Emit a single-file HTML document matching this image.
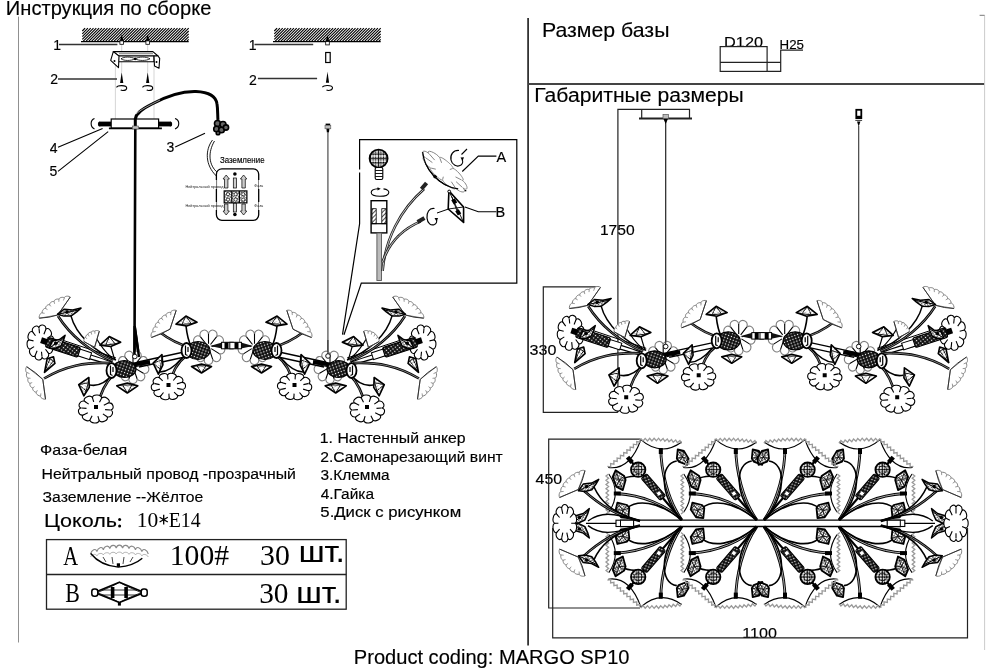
<!DOCTYPE html>
<html><head><meta charset="utf-8"><style>
html,body{margin:0;padding:0;background:#fff;}
svg{display:block;filter:grayscale(1);}
</style></head><body>
<svg width="992" height="672" viewBox="0 0 992 672">
<defs>
<pattern id="xh" width="2.4" height="2.4" patternUnits="userSpaceOnUse" patternTransform="rotate(30)"><rect width="2.4" height="2.4" fill="#fff"/><path d="M0,0H2.4M0,0V2.4" stroke="#000" stroke-width="0.7"/></pattern>
<pattern id="xl" width="2.6" height="2.6" patternUnits="userSpaceOnUse" patternTransform="rotate(30)"><rect width="2.6" height="2.6" fill="#fff"/><path d="M0,0H2.6" stroke="#000" stroke-width="0.5"/></pattern>
<pattern id="dots" width="2.6" height="2.6" patternUnits="userSpaceOnUse"><rect width="2.6" height="2.6" fill="#fff"/><circle cx="1.3" cy="1.3" r="0.85" fill="#000"/></pattern>
<pattern id="dk" width="3" height="3" patternUnits="userSpaceOnUse" patternTransform="rotate(20)"><rect width="3" height="3" fill="#111"/><circle cx="1.5" cy="1.5" r="0.7" fill="#fff"/></pattern>
<pattern id="hatch" width="3" height="3" patternUnits="userSpaceOnUse" patternTransform="rotate(45)"><rect width="3" height="3" fill="#fff"/><path d="M0,0V3" stroke="#000" stroke-width="1.4"/></pattern>
</defs>
<rect width="992" height="672" fill="#fff"/>
<text x="5.85" y="14.7" font-family="Liberation Sans" font-size="20" font-weight="normal" fill="#000" stroke="#000" stroke-width="0.15" textLength="205.54" lengthAdjust="spacingAndGlyphs" >Инструкция по сборке</text>
<text x="541.98" y="36.9" font-family="Liberation Sans" font-size="20.8" font-weight="normal" fill="#000" stroke="#000" stroke-width="0.15" textLength="127.48" lengthAdjust="spacingAndGlyphs" >Размер базы</text>
<text x="534.28" y="102" font-family="Liberation Sans" font-size="20" font-weight="normal" fill="#000" stroke="#000" stroke-width="0.15" textLength="209.37" lengthAdjust="spacingAndGlyphs" >Габаритные размеры</text>
<text x="724.06" y="46.6" font-family="Liberation Sans" font-size="15" font-weight="normal" fill="#000" stroke="#000" stroke-width="0.15" textLength="38.97" lengthAdjust="spacingAndGlyphs" >D120</text>
<text x="779.61" y="49.3" font-family="Liberation Sans" font-size="12" font-weight="normal" fill="#000" stroke="#000" stroke-width="0.15" textLength="24.35" lengthAdjust="spacingAndGlyphs" >H25</text>
<text x="599.91" y="235.1" font-family="Liberation Sans" font-size="14.8" font-weight="normal" fill="#000" stroke="#000" stroke-width="0.15" textLength="34.80" lengthAdjust="spacingAndGlyphs" >1750</text>
<text x="529.59" y="355" font-family="Liberation Sans" font-size="14.5" font-weight="normal" fill="#000" stroke="#000" stroke-width="0.15" textLength="26.84" lengthAdjust="spacingAndGlyphs" >330</text>
<text x="535.63" y="484.3" font-family="Liberation Sans" font-size="14.5" font-weight="normal" fill="#000" stroke="#000" stroke-width="0.15" textLength="26.59" lengthAdjust="spacingAndGlyphs" >450</text>
<text x="742.31" y="637.7" font-family="Liberation Sans" font-size="15" font-weight="normal" fill="#000" stroke="#000" stroke-width="0.15" textLength="34.70" lengthAdjust="spacingAndGlyphs" >1100</text>
<text x="40.08" y="455.3" font-family="Liberation Sans" font-size="14.5" font-weight="normal" fill="#000" stroke="#000" stroke-width="0.15" textLength="87.02" lengthAdjust="spacingAndGlyphs" >Фаза-белая</text>
<text x="41.51" y="478.8" font-family="Liberation Sans" font-size="15.4" font-weight="normal" fill="#000" stroke="#000" stroke-width="0.15" textLength="254.39" lengthAdjust="spacingAndGlyphs" >Нейтральный провод -прозрачный</text>
<text x="42.59" y="502.4" font-family="Liberation Sans" font-size="15.4" font-weight="normal" fill="#000" stroke="#000" stroke-width="0.15" textLength="160.81" lengthAdjust="spacingAndGlyphs" >Заземление --Жёлтое</text>
<text x="44.04" y="526.7" font-family="Liberation Sans" font-size="18.7" font-weight="normal" fill="#000" stroke="#000" stroke-width="0.15" textLength="72.94" lengthAdjust="spacingAndGlyphs" >Цоколь</text>
<circle cx="119.6" cy="519.4" r="1.5" fill="#000"/><circle cx="119.6" cy="525.9" r="1.5" fill="#000"/>
<text x="136.71" y="527" font-family="Liberation Serif" font-size="21.3" font-weight="normal" fill="#000" textLength="21.51" lengthAdjust="spacingAndGlyphs" >10</text>
<path d="M163.7,514.8 V524.4 M159.6,517.2 L167.8,522 M159.6,522 L167.8,517.2" stroke="#000" stroke-width="1.3"/>
<text x="168.73" y="527" font-family="Liberation Serif" font-size="21.3" font-weight="normal" fill="#000" textLength="31.88" lengthAdjust="spacingAndGlyphs" >E14</text>
<text x="319.80" y="443.1" font-family="Liberation Sans" font-size="14" font-weight="normal" fill="#000" stroke="#000" stroke-width="0.15" textLength="145.87" lengthAdjust="spacingAndGlyphs" >1. Настенный анкер</text>
<text x="320.21" y="461.7" font-family="Liberation Sans" font-size="14" font-weight="normal" fill="#000" stroke="#000" stroke-width="0.15" textLength="182.56" lengthAdjust="spacingAndGlyphs" >2.Самонарезающий винт</text>
<text x="320.41" y="479.8" font-family="Liberation Sans" font-size="14" font-weight="normal" fill="#000" stroke="#000" stroke-width="0.15" textLength="69.19" lengthAdjust="spacingAndGlyphs" >3.Клемма</text>
<text x="320.65" y="499.2" font-family="Liberation Sans" font-size="14" font-weight="normal" fill="#000" stroke="#000" stroke-width="0.15" textLength="53.35" lengthAdjust="spacingAndGlyphs" >4.Гайка</text>
<text x="320.33" y="516.7" font-family="Liberation Sans" font-size="14" font-weight="normal" fill="#000" stroke="#000" stroke-width="0.15" textLength="140.82" lengthAdjust="spacingAndGlyphs" >5.Диск с рисунком</text>
<text x="353.85" y="663.9" font-family="Liberation Sans" font-size="19.5" font-weight="normal" fill="#000" stroke="#000" stroke-width="0.15" textLength="275.63" lengthAdjust="spacingAndGlyphs" >Product coding: MARGO SP10</text>
<text x="63.30" y="564.8" font-family="Liberation Serif" font-size="27" font-weight="normal" fill="#000" textLength="14.85" lengthAdjust="spacingAndGlyphs" >A</text>
<text x="65.17" y="601.6" font-family="Liberation Serif" font-size="27" font-weight="normal" fill="#000" textLength="14.60" lengthAdjust="spacingAndGlyphs" >B</text>
<text x="169.79" y="564.8" font-family="Liberation Serif" font-size="29.7" font-weight="normal" fill="#000" textLength="59.34" lengthAdjust="spacingAndGlyphs" >100#</text>
<text x="260.08" y="564.8" font-family="Liberation Serif" font-size="29.7" font-weight="normal" fill="#000" textLength="29.76" lengthAdjust="spacingAndGlyphs" >30</text>
<text x="259.20" y="603" font-family="Liberation Serif" font-size="29.7" font-weight="normal" fill="#000" textLength="29.32" lengthAdjust="spacingAndGlyphs" >30</text>
<text x="298.73" y="561.9" font-family="Liberation Sans" font-size="29" font-weight="normal" fill="#000" stroke="#000" stroke-width="0.15" textLength="46.00" lengthAdjust="spacingAndGlyphs" >шт.</text>
<text x="296.15" y="603" font-family="Liberation Sans" font-size="29" font-weight="normal" fill="#000" stroke="#000" stroke-width="0.15" textLength="45.45" lengthAdjust="spacingAndGlyphs" >шт.</text>
<text x="53.13" y="50.3" font-family="Liberation Sans" font-size="14" font-weight="normal" fill="#000" stroke="#000" stroke-width="0.15" >1</text>
<text x="50.30" y="84.2" font-family="Liberation Sans" font-size="14" font-weight="normal" fill="#000" stroke="#000" stroke-width="0.15" >2</text>
<text x="248.73" y="50.4" font-family="Liberation Sans" font-size="14" font-weight="normal" fill="#000" stroke="#000" stroke-width="0.15" >1</text>
<text x="249.10" y="84.6" font-family="Liberation Sans" font-size="14" font-weight="normal" fill="#000" stroke="#000" stroke-width="0.15" >2</text>
<text x="49.68" y="152.7" font-family="Liberation Sans" font-size="14" font-weight="normal" fill="#000" stroke="#000" stroke-width="0.15" >4</text>
<text x="49.44" y="176.2" font-family="Liberation Sans" font-size="14" font-weight="normal" fill="#000" stroke="#000" stroke-width="0.15" >5</text>
<text x="166.47" y="151.8" font-family="Liberation Sans" font-size="14" font-weight="normal" fill="#000" stroke="#000" stroke-width="0.15" >3</text>
<text x="496.57" y="161.8" font-family="Liberation Sans" font-size="14.5" font-weight="normal" fill="#000" stroke="#000" stroke-width="0.15" >A</text>
<text x="495.41" y="216.8" font-family="Liberation Sans" font-size="14.5" font-weight="normal" fill="#000" stroke="#000" stroke-width="0.15" >B</text>
<text x="219.94" y="163.4" font-family="Liberation Sans" font-size="8.5" font-weight="normal" fill="#000" stroke="#000" stroke-width="0.15" textLength="44.61" lengthAdjust="spacingAndGlyphs" >Заземление</text>
<line x1="18.5" y1="16.6" x2="18.5" y2="642.5" stroke="#909090" stroke-width="1" />
<line x1="528.1" y1="18" x2="528.1" y2="645.5" stroke="#333" stroke-width="1.8" />
<line x1="528.2" y1="84" x2="984.6" y2="84" stroke="#444" stroke-width="1.8" />
<line x1="984.6" y1="15.3" x2="984.6" y2="650" stroke="#ccc" stroke-width="1" />
<line x1="979.6" y1="15.3" x2="984.6" y2="15.3" stroke="#777" stroke-width="1" />
<g stroke="#222" stroke-width="1.2" fill="none">
<rect x="720.2" y="46.6" width="46.9" height="24.8"/>
<line x1="720.2" y1="62.3" x2="780.7" y2="62.3"/>
<polyline points="767.1,71.4 780.7,71.4 780.7,50.2 803,50.2"/>
</g>
<g stroke="#222" stroke-width="1.2" fill="none">
<polyline points="617.9,412.3 617.9,109.3 689.5,109.3 689.5,118.5"/>
<line x1="641.7" y1="109.3" x2="641.7" y2="118.5"/>
<line x1="639" y1="118.5" x2="692" y2="118.5" stroke-width="1.8"/>
<polyline points="599,286.9 543.3,286.9 543.3,412.3 617.9,412.3"/>
<polyline points="640.5,439.1 548.7,439.1 548.7,608 640,608"/>
<polyline points="552.7,528 552.7,637.8 967.5,637.8 967.5,528"/>
</g>
<line x1="665.7" y1="118.5" x2="665.7" y2="344.5" stroke="#222" stroke-width="1.2" />
<g stroke="#222" stroke-width="1.3" fill="none">
<rect x="46.5" y="539.6" width="299.7" height="69.6"/>
<line x1="46.5" y1="574.5" x2="346.2" y2="574.5"/>
</g>
<g transform="translate(681.8,520)"><path d="M-73.6,-52.6 Q-51.9,-49.5 -41,-80.3" fill="none" stroke="#000" stroke-width="1.1"/>
<polyline points="-74.4,-53.6 -71.1,-53.0 -71.2,-56.4 -67.9,-55.8 -67.9,-59.1 -64.6,-58.5 -64.7,-61.9 -61.3,-61.3 -61.4,-64.7 -58.1,-64.1 -58.1,-67.4 -54.8,-66.8 -54.9,-70.2 -51.6,-69.6 -51.6,-73.0 -48.3,-72.4 -48.4,-75.8 -45.0,-75.2 -45.1,-78.5 -41.8,-77.9 -41.8,-81.3" fill="none" stroke="#999" stroke-width="1.3"/>
<path d="M-41,-80.3 Q-21,-63 0,-78" fill="none" stroke="#000" stroke-width="1.1"/>
<polyline points="-41.0,-81.6 -38.8,-79.0 -36.6,-81.6 -34.3,-79.1 -32.1,-81.7 -29.9,-79.1 -27.7,-81.7 -25.4,-79.2 -23.2,-81.8 -21.2,-79.2 -18.7,-81.5 -17.0,-78.7 -14.5,-81.0 -12.8,-78.2 -10.3,-80.5 -8.6,-77.7 -6.1,-80.0 -4.4,-77.2 -1.9,-79.5 -0.2,-76.7" fill="none" stroke="#999" stroke-width="1.3"/>
<path d="M-73,-46 Q-60,-27.2 -73,-8" fill="none" stroke="#000" stroke-width="1.1"/>
<polyline points="-73.2,-46.0 -75.8,-43.9 -73.2,-41.8 -75.8,-39.7 -73.2,-37.6 -75.8,-35.5 -73.2,-33.4 -75.8,-31.3 -73.2,-29.2 -75.8,-27.1 -73.2,-24.9 -75.8,-22.8 -73.2,-20.7 -75.8,-18.6 -73.2,-16.5 -75.8,-14.4 -73.2,-12.3 -75.8,-10.2 -73.2,-8.1 -75.8,-6.0" fill="none" stroke="#999" stroke-width="1.3"/>
<path d="M-65,-26.5 C-40,-25 -15,-15 0,0" fill="none" stroke="#000" stroke-width="2.8"/>
<path d="M-65,-26.5 C-40,-25 -15,-15 0,0" fill="none" stroke="#aaa" stroke-width="1.0"/>
<path d="M-21,-72 C-21,-50 -14,-20 0,0" fill="none" stroke="#000" stroke-width="2.8"/>
<path d="M-21,-72 C-21,-50 -14,-20 0,0" fill="none" stroke="#aaa" stroke-width="1.0"/>
<rect x="-68" y="-28.5" width="7" height="4" fill="#000"/>
<rect x="-23" y="-72" width="4" height="6" fill="#000"/>
<path d="M-55,-12 C-45,-20 -25,-20 0,0" fill="none" stroke="#000" stroke-width="1.6"/>
<path d="M-5,-59 C-22,-57 -23,-25 0,0" fill="none" stroke="#000" stroke-width="1.6"/>
<path d="M-57,-42 C-52,-44 -48,-44 -42,-44" fill="none" stroke="#000" stroke-width="1.6"/>
<g transform="rotate(-130.8)"><path d="M1,0 H82" stroke="#000" stroke-width="2.2"/><rect x="29" y="-3.6" width="29" height="7.2" rx="1.5" fill="url(#dk)" stroke="#000" stroke-width="1.1"/><rect x="33" y="-2" width="4" height="4" fill="#fff" stroke="#000" stroke-width="0.6"/><rect x="76" y="-2.2" width="7" height="4.4" fill="#000"/></g>
<circle cx="-43.6" cy="-50.3" r="7.2" fill="url(#dots)" stroke="#000" stroke-width="1.8"/><path d="M-50.800000000000004,-50.3 h14.4 M-43.6,-57.5 v14.4" stroke="#000" stroke-width="0.8"/><circle cx="-43.6" cy="-50.3" r="3.9600000000000004" fill="none" stroke="#000" stroke-width="0.8"/>
<polygon points="-59.0,-29.9 -65.5,-33.2 -69.1,-43.1 -66.2,-49.7 -57.6,-43.9 -56.2,-39.9" fill="url(#xh)" stroke="#000" stroke-width="1.8" stroke-linejoin="round"/><path d="M-65.5,-33.2 L-62.6,-39.8 L-69.1,-43.1M-59.0,-29.9L-66.2,-49.7M-62.6,-39.8L-56.2,-39.9M-62.6,-39.8L-57.6,-43.9M-65.5,-33.2L-60.5,-33.9M-69.1,-43.1L-64.8,-45.7" stroke="#000" stroke-width="0.8" fill="none"/>
<polygon points="-53.5,-1.9 -60.7,-2.7 -66.1,-10.4 -64.4,-17.4 -54.7,-15.0 -52.5,-11.9" fill="url(#xh)" stroke="#000" stroke-width="1.8" stroke-linejoin="round"/><path d="M-60.7,-2.7 L-59.0,-9.7 L-66.1,-10.4M-53.5,-1.9L-64.4,-17.4M-59.0,-9.7L-52.5,-11.9M-59.0,-9.7L-54.7,-15.0M-60.7,-2.7L-55.7,-5.0M-66.1,-10.4L-62.3,-14.3" stroke="#000" stroke-width="0.8" fill="none"/>
<polygon points="-4.1,-70.5 2.1,-69.1 6.8,-61.4 5.4,-55.2 -3.1,-58.4 -5.0,-61.5" fill="url(#xh)" stroke="#000" stroke-width="1.8" stroke-linejoin="round"/><path d="M2.1,-69.1 L0.6,-62.9 L6.8,-61.4M-4.1,-70.5L5.4,-55.2M0.6,-62.9L-5.0,-61.5M0.6,-62.9L-3.1,-58.4M2.1,-69.1L-2.2,-67.4M6.8,-61.4L3.5,-58.3" stroke="#000" stroke-width="0.8" fill="none"/></g><g transform="translate(756.8,520)"><path d="M-73.6,-52.6 Q-51.9,-49.5 -41,-80.3" fill="none" stroke="#000" stroke-width="1.1"/>
<polyline points="-74.4,-53.6 -71.1,-53.0 -71.2,-56.4 -67.9,-55.8 -67.9,-59.1 -64.6,-58.5 -64.7,-61.9 -61.3,-61.3 -61.4,-64.7 -58.1,-64.1 -58.1,-67.4 -54.8,-66.8 -54.9,-70.2 -51.6,-69.6 -51.6,-73.0 -48.3,-72.4 -48.4,-75.8 -45.0,-75.2 -45.1,-78.5 -41.8,-77.9 -41.8,-81.3" fill="none" stroke="#999" stroke-width="1.3"/>
<path d="M-41,-80.3 Q-21,-63 0,-78" fill="none" stroke="#000" stroke-width="1.1"/>
<polyline points="-41.0,-81.6 -38.8,-79.0 -36.6,-81.6 -34.3,-79.1 -32.1,-81.7 -29.9,-79.1 -27.7,-81.7 -25.4,-79.2 -23.2,-81.8 -21.2,-79.2 -18.7,-81.5 -17.0,-78.7 -14.5,-81.0 -12.8,-78.2 -10.3,-80.5 -8.6,-77.7 -6.1,-80.0 -4.4,-77.2 -1.9,-79.5 -0.2,-76.7" fill="none" stroke="#999" stroke-width="1.3"/>
<path d="M-73,-46 Q-60,-27.2 -73,-8" fill="none" stroke="#000" stroke-width="1.1"/>
<polyline points="-73.2,-46.0 -75.8,-43.9 -73.2,-41.8 -75.8,-39.7 -73.2,-37.6 -75.8,-35.5 -73.2,-33.4 -75.8,-31.3 -73.2,-29.2 -75.8,-27.1 -73.2,-24.9 -75.8,-22.8 -73.2,-20.7 -75.8,-18.6 -73.2,-16.5 -75.8,-14.4 -73.2,-12.3 -75.8,-10.2 -73.2,-8.1 -75.8,-6.0" fill="none" stroke="#999" stroke-width="1.3"/>
<path d="M-65,-26.5 C-40,-25 -15,-15 0,0" fill="none" stroke="#000" stroke-width="2.8"/>
<path d="M-65,-26.5 C-40,-25 -15,-15 0,0" fill="none" stroke="#aaa" stroke-width="1.0"/>
<path d="M-21,-72 C-21,-50 -14,-20 0,0" fill="none" stroke="#000" stroke-width="2.8"/>
<path d="M-21,-72 C-21,-50 -14,-20 0,0" fill="none" stroke="#aaa" stroke-width="1.0"/>
<rect x="-68" y="-28.5" width="7" height="4" fill="#000"/>
<rect x="-23" y="-72" width="4" height="6" fill="#000"/>
<path d="M-55,-12 C-45,-20 -25,-20 0,0" fill="none" stroke="#000" stroke-width="1.6"/>
<path d="M-5,-59 C-22,-57 -23,-25 0,0" fill="none" stroke="#000" stroke-width="1.6"/>
<path d="M-57,-42 C-52,-44 -48,-44 -42,-44" fill="none" stroke="#000" stroke-width="1.6"/>
<g transform="rotate(-130.8)"><path d="M1,0 H82" stroke="#000" stroke-width="2.2"/><rect x="29" y="-3.6" width="29" height="7.2" rx="1.5" fill="url(#dk)" stroke="#000" stroke-width="1.1"/><rect x="33" y="-2" width="4" height="4" fill="#fff" stroke="#000" stroke-width="0.6"/><rect x="76" y="-2.2" width="7" height="4.4" fill="#000"/></g>
<circle cx="-43.6" cy="-50.3" r="7.2" fill="url(#dots)" stroke="#000" stroke-width="1.8"/><path d="M-50.800000000000004,-50.3 h14.4 M-43.6,-57.5 v14.4" stroke="#000" stroke-width="0.8"/><circle cx="-43.6" cy="-50.3" r="3.9600000000000004" fill="none" stroke="#000" stroke-width="0.8"/>
<polygon points="-59.0,-29.9 -65.5,-33.2 -69.1,-43.1 -66.2,-49.7 -57.6,-43.9 -56.2,-39.9" fill="url(#xh)" stroke="#000" stroke-width="1.8" stroke-linejoin="round"/><path d="M-65.5,-33.2 L-62.6,-39.8 L-69.1,-43.1M-59.0,-29.9L-66.2,-49.7M-62.6,-39.8L-56.2,-39.9M-62.6,-39.8L-57.6,-43.9M-65.5,-33.2L-60.5,-33.9M-69.1,-43.1L-64.8,-45.7" stroke="#000" stroke-width="0.8" fill="none"/>
<polygon points="-53.5,-1.9 -60.7,-2.7 -66.1,-10.4 -64.4,-17.4 -54.7,-15.0 -52.5,-11.9" fill="url(#xh)" stroke="#000" stroke-width="1.8" stroke-linejoin="round"/><path d="M-60.7,-2.7 L-59.0,-9.7 L-66.1,-10.4M-53.5,-1.9L-64.4,-17.4M-59.0,-9.7L-52.5,-11.9M-59.0,-9.7L-54.7,-15.0M-60.7,-2.7L-55.7,-5.0M-66.1,-10.4L-62.3,-14.3" stroke="#000" stroke-width="0.8" fill="none"/>
<polygon points="-4.1,-70.5 2.1,-69.1 6.8,-61.4 5.4,-55.2 -3.1,-58.4 -5.0,-61.5" fill="url(#xh)" stroke="#000" stroke-width="1.8" stroke-linejoin="round"/><path d="M2.1,-69.1 L0.6,-62.9 L6.8,-61.4M-4.1,-70.5L5.4,-55.2M0.6,-62.9L-5.0,-61.5M0.6,-62.9L-3.1,-58.4M2.1,-69.1L-2.2,-67.4M6.8,-61.4L3.5,-58.3" stroke="#000" stroke-width="0.8" fill="none"/></g><path d="M583,490 C600,505 615,515 640,521" fill="none" stroke="#000" stroke-width="2.6"/>
<path d="M583,490 C600,505 615,515 640,521" fill="none" stroke="#999" stroke-width="0.8"/>
<path d="M594,487 C600,500 610,512 640,521" fill="none" stroke="#000" stroke-width="1.6"/>
<path d="M588,521 C600,512 612,512 640,521" fill="none" stroke="#000" stroke-width="1.4"/>
<path d="M585.0,470.7 C583.1,469.6 578.5,471.1 579.3,472.5 C577.4,471.5 573.4,473.5 574.2,475.0 C572.4,474.1 569.0,476.6 569.9,478.2 C568.2,477.3 565.3,480.4 566.3,482.0 C564.6,481.2 562.3,484.8 563.4,486.5 C561.8,485.7 560.0,489.9 561.1,491.7 C559.6,491.0 558.4,495.6 559.6,497.5 L578.3,489.5 Z" fill="#fff" stroke="#808080" stroke-width="1.0"/><path d="M585.0,470.7 Q582.7,481.1 578.3,489.5 L559.6,497.5" fill="none" stroke="#333" stroke-width="1.0"/><path d="M579.3,472.5L579.1,475.1M574.2,475.0L574.9,477.2M569.9,478.2L571.2,479.9M566.3,482.0L568.1,483.2M563.4,486.5L565.6,487.0M561.1,491.7L563.7,491.4" stroke="#808080" stroke-width="0.8"/>
<polygon points="578.5,490.8 583.2,484.1 591.6,483.1 598.7,479.3 595.8,484.3 591.8,489.8 585.0,491.6" fill="url(#xh)" stroke="#000" stroke-width="1.5" stroke-linejoin="round"/><path d="M578.5,490.8L597.2,481.8" stroke="#000" stroke-width="1"/><circle cx="586.7" cy="486.5" r="1.8" fill="#000"/>
<polygon points="572.6,523.2 575.7,515.8 583.3,513.5 589.3,508.6 587.6,514.0 584.9,520.0 578.9,522.8" fill="url(#xh)" stroke="#000" stroke-width="1.5" stroke-linejoin="round"/><path d="M572.6,523.2L588.4,511.3" stroke="#000" stroke-width="1"/><circle cx="579.5" cy="517.6" r="1.8" fill="#000"/><g transform="translate(1520.8,0) scale(-1,1)"><g transform="translate(681.8,520)"><path d="M-73.6,-52.6 Q-51.9,-49.5 -41,-80.3" fill="none" stroke="#000" stroke-width="1.1"/>
<polyline points="-74.4,-53.6 -71.1,-53.0 -71.2,-56.4 -67.9,-55.8 -67.9,-59.1 -64.6,-58.5 -64.7,-61.9 -61.3,-61.3 -61.4,-64.7 -58.1,-64.1 -58.1,-67.4 -54.8,-66.8 -54.9,-70.2 -51.6,-69.6 -51.6,-73.0 -48.3,-72.4 -48.4,-75.8 -45.0,-75.2 -45.1,-78.5 -41.8,-77.9 -41.8,-81.3" fill="none" stroke="#999" stroke-width="1.3"/>
<path d="M-41,-80.3 Q-21,-63 0,-78" fill="none" stroke="#000" stroke-width="1.1"/>
<polyline points="-41.0,-81.6 -38.8,-79.0 -36.6,-81.6 -34.3,-79.1 -32.1,-81.7 -29.9,-79.1 -27.7,-81.7 -25.4,-79.2 -23.2,-81.8 -21.2,-79.2 -18.7,-81.5 -17.0,-78.7 -14.5,-81.0 -12.8,-78.2 -10.3,-80.5 -8.6,-77.7 -6.1,-80.0 -4.4,-77.2 -1.9,-79.5 -0.2,-76.7" fill="none" stroke="#999" stroke-width="1.3"/>
<path d="M-73,-46 Q-60,-27.2 -73,-8" fill="none" stroke="#000" stroke-width="1.1"/>
<polyline points="-73.2,-46.0 -75.8,-43.9 -73.2,-41.8 -75.8,-39.7 -73.2,-37.6 -75.8,-35.5 -73.2,-33.4 -75.8,-31.3 -73.2,-29.2 -75.8,-27.1 -73.2,-24.9 -75.8,-22.8 -73.2,-20.7 -75.8,-18.6 -73.2,-16.5 -75.8,-14.4 -73.2,-12.3 -75.8,-10.2 -73.2,-8.1 -75.8,-6.0" fill="none" stroke="#999" stroke-width="1.3"/>
<path d="M-65,-26.5 C-40,-25 -15,-15 0,0" fill="none" stroke="#000" stroke-width="2.8"/>
<path d="M-65,-26.5 C-40,-25 -15,-15 0,0" fill="none" stroke="#aaa" stroke-width="1.0"/>
<path d="M-21,-72 C-21,-50 -14,-20 0,0" fill="none" stroke="#000" stroke-width="2.8"/>
<path d="M-21,-72 C-21,-50 -14,-20 0,0" fill="none" stroke="#aaa" stroke-width="1.0"/>
<rect x="-68" y="-28.5" width="7" height="4" fill="#000"/>
<rect x="-23" y="-72" width="4" height="6" fill="#000"/>
<path d="M-55,-12 C-45,-20 -25,-20 0,0" fill="none" stroke="#000" stroke-width="1.6"/>
<path d="M-5,-59 C-22,-57 -23,-25 0,0" fill="none" stroke="#000" stroke-width="1.6"/>
<path d="M-57,-42 C-52,-44 -48,-44 -42,-44" fill="none" stroke="#000" stroke-width="1.6"/>
<g transform="rotate(-130.8)"><path d="M1,0 H82" stroke="#000" stroke-width="2.2"/><rect x="29" y="-3.6" width="29" height="7.2" rx="1.5" fill="url(#dk)" stroke="#000" stroke-width="1.1"/><rect x="33" y="-2" width="4" height="4" fill="#fff" stroke="#000" stroke-width="0.6"/><rect x="76" y="-2.2" width="7" height="4.4" fill="#000"/></g>
<circle cx="-43.6" cy="-50.3" r="7.2" fill="url(#dots)" stroke="#000" stroke-width="1.8"/><path d="M-50.800000000000004,-50.3 h14.4 M-43.6,-57.5 v14.4" stroke="#000" stroke-width="0.8"/><circle cx="-43.6" cy="-50.3" r="3.9600000000000004" fill="none" stroke="#000" stroke-width="0.8"/>
<polygon points="-59.0,-29.9 -65.5,-33.2 -69.1,-43.1 -66.2,-49.7 -57.6,-43.9 -56.2,-39.9" fill="url(#xh)" stroke="#000" stroke-width="1.8" stroke-linejoin="round"/><path d="M-65.5,-33.2 L-62.6,-39.8 L-69.1,-43.1M-59.0,-29.9L-66.2,-49.7M-62.6,-39.8L-56.2,-39.9M-62.6,-39.8L-57.6,-43.9M-65.5,-33.2L-60.5,-33.9M-69.1,-43.1L-64.8,-45.7" stroke="#000" stroke-width="0.8" fill="none"/>
<polygon points="-53.5,-1.9 -60.7,-2.7 -66.1,-10.4 -64.4,-17.4 -54.7,-15.0 -52.5,-11.9" fill="url(#xh)" stroke="#000" stroke-width="1.8" stroke-linejoin="round"/><path d="M-60.7,-2.7 L-59.0,-9.7 L-66.1,-10.4M-53.5,-1.9L-64.4,-17.4M-59.0,-9.7L-52.5,-11.9M-59.0,-9.7L-54.7,-15.0M-60.7,-2.7L-55.7,-5.0M-66.1,-10.4L-62.3,-14.3" stroke="#000" stroke-width="0.8" fill="none"/>
<polygon points="-4.1,-70.5 2.1,-69.1 6.8,-61.4 5.4,-55.2 -3.1,-58.4 -5.0,-61.5" fill="url(#xh)" stroke="#000" stroke-width="1.8" stroke-linejoin="round"/><path d="M2.1,-69.1 L0.6,-62.9 L6.8,-61.4M-4.1,-70.5L5.4,-55.2M0.6,-62.9L-5.0,-61.5M0.6,-62.9L-3.1,-58.4M2.1,-69.1L-2.2,-67.4M6.8,-61.4L3.5,-58.3" stroke="#000" stroke-width="0.8" fill="none"/></g><g transform="translate(756.8,520)"><path d="M-73.6,-52.6 Q-51.9,-49.5 -41,-80.3" fill="none" stroke="#000" stroke-width="1.1"/>
<polyline points="-74.4,-53.6 -71.1,-53.0 -71.2,-56.4 -67.9,-55.8 -67.9,-59.1 -64.6,-58.5 -64.7,-61.9 -61.3,-61.3 -61.4,-64.7 -58.1,-64.1 -58.1,-67.4 -54.8,-66.8 -54.9,-70.2 -51.6,-69.6 -51.6,-73.0 -48.3,-72.4 -48.4,-75.8 -45.0,-75.2 -45.1,-78.5 -41.8,-77.9 -41.8,-81.3" fill="none" stroke="#999" stroke-width="1.3"/>
<path d="M-41,-80.3 Q-21,-63 0,-78" fill="none" stroke="#000" stroke-width="1.1"/>
<polyline points="-41.0,-81.6 -38.8,-79.0 -36.6,-81.6 -34.3,-79.1 -32.1,-81.7 -29.9,-79.1 -27.7,-81.7 -25.4,-79.2 -23.2,-81.8 -21.2,-79.2 -18.7,-81.5 -17.0,-78.7 -14.5,-81.0 -12.8,-78.2 -10.3,-80.5 -8.6,-77.7 -6.1,-80.0 -4.4,-77.2 -1.9,-79.5 -0.2,-76.7" fill="none" stroke="#999" stroke-width="1.3"/>
<path d="M-73,-46 Q-60,-27.2 -73,-8" fill="none" stroke="#000" stroke-width="1.1"/>
<polyline points="-73.2,-46.0 -75.8,-43.9 -73.2,-41.8 -75.8,-39.7 -73.2,-37.6 -75.8,-35.5 -73.2,-33.4 -75.8,-31.3 -73.2,-29.2 -75.8,-27.1 -73.2,-24.9 -75.8,-22.8 -73.2,-20.7 -75.8,-18.6 -73.2,-16.5 -75.8,-14.4 -73.2,-12.3 -75.8,-10.2 -73.2,-8.1 -75.8,-6.0" fill="none" stroke="#999" stroke-width="1.3"/>
<path d="M-65,-26.5 C-40,-25 -15,-15 0,0" fill="none" stroke="#000" stroke-width="2.8"/>
<path d="M-65,-26.5 C-40,-25 -15,-15 0,0" fill="none" stroke="#aaa" stroke-width="1.0"/>
<path d="M-21,-72 C-21,-50 -14,-20 0,0" fill="none" stroke="#000" stroke-width="2.8"/>
<path d="M-21,-72 C-21,-50 -14,-20 0,0" fill="none" stroke="#aaa" stroke-width="1.0"/>
<rect x="-68" y="-28.5" width="7" height="4" fill="#000"/>
<rect x="-23" y="-72" width="4" height="6" fill="#000"/>
<path d="M-55,-12 C-45,-20 -25,-20 0,0" fill="none" stroke="#000" stroke-width="1.6"/>
<path d="M-5,-59 C-22,-57 -23,-25 0,0" fill="none" stroke="#000" stroke-width="1.6"/>
<path d="M-57,-42 C-52,-44 -48,-44 -42,-44" fill="none" stroke="#000" stroke-width="1.6"/>
<g transform="rotate(-130.8)"><path d="M1,0 H82" stroke="#000" stroke-width="2.2"/><rect x="29" y="-3.6" width="29" height="7.2" rx="1.5" fill="url(#dk)" stroke="#000" stroke-width="1.1"/><rect x="33" y="-2" width="4" height="4" fill="#fff" stroke="#000" stroke-width="0.6"/><rect x="76" y="-2.2" width="7" height="4.4" fill="#000"/></g>
<circle cx="-43.6" cy="-50.3" r="7.2" fill="url(#dots)" stroke="#000" stroke-width="1.8"/><path d="M-50.800000000000004,-50.3 h14.4 M-43.6,-57.5 v14.4" stroke="#000" stroke-width="0.8"/><circle cx="-43.6" cy="-50.3" r="3.9600000000000004" fill="none" stroke="#000" stroke-width="0.8"/>
<polygon points="-59.0,-29.9 -65.5,-33.2 -69.1,-43.1 -66.2,-49.7 -57.6,-43.9 -56.2,-39.9" fill="url(#xh)" stroke="#000" stroke-width="1.8" stroke-linejoin="round"/><path d="M-65.5,-33.2 L-62.6,-39.8 L-69.1,-43.1M-59.0,-29.9L-66.2,-49.7M-62.6,-39.8L-56.2,-39.9M-62.6,-39.8L-57.6,-43.9M-65.5,-33.2L-60.5,-33.9M-69.1,-43.1L-64.8,-45.7" stroke="#000" stroke-width="0.8" fill="none"/>
<polygon points="-53.5,-1.9 -60.7,-2.7 -66.1,-10.4 -64.4,-17.4 -54.7,-15.0 -52.5,-11.9" fill="url(#xh)" stroke="#000" stroke-width="1.8" stroke-linejoin="round"/><path d="M-60.7,-2.7 L-59.0,-9.7 L-66.1,-10.4M-53.5,-1.9L-64.4,-17.4M-59.0,-9.7L-52.5,-11.9M-59.0,-9.7L-54.7,-15.0M-60.7,-2.7L-55.7,-5.0M-66.1,-10.4L-62.3,-14.3" stroke="#000" stroke-width="0.8" fill="none"/>
<polygon points="-4.1,-70.5 2.1,-69.1 6.8,-61.4 5.4,-55.2 -3.1,-58.4 -5.0,-61.5" fill="url(#xh)" stroke="#000" stroke-width="1.8" stroke-linejoin="round"/><path d="M2.1,-69.1 L0.6,-62.9 L6.8,-61.4M-4.1,-70.5L5.4,-55.2M0.6,-62.9L-5.0,-61.5M0.6,-62.9L-3.1,-58.4M2.1,-69.1L-2.2,-67.4M6.8,-61.4L3.5,-58.3" stroke="#000" stroke-width="0.8" fill="none"/></g><path d="M583,490 C600,505 615,515 640,521" fill="none" stroke="#000" stroke-width="2.6"/>
<path d="M583,490 C600,505 615,515 640,521" fill="none" stroke="#999" stroke-width="0.8"/>
<path d="M594,487 C600,500 610,512 640,521" fill="none" stroke="#000" stroke-width="1.6"/>
<path d="M588,521 C600,512 612,512 640,521" fill="none" stroke="#000" stroke-width="1.4"/>
<path d="M585.0,470.7 C583.1,469.6 578.5,471.1 579.3,472.5 C577.4,471.5 573.4,473.5 574.2,475.0 C572.4,474.1 569.0,476.6 569.9,478.2 C568.2,477.3 565.3,480.4 566.3,482.0 C564.6,481.2 562.3,484.8 563.4,486.5 C561.8,485.7 560.0,489.9 561.1,491.7 C559.6,491.0 558.4,495.6 559.6,497.5 L578.3,489.5 Z" fill="#fff" stroke="#808080" stroke-width="1.0"/><path d="M585.0,470.7 Q582.7,481.1 578.3,489.5 L559.6,497.5" fill="none" stroke="#333" stroke-width="1.0"/><path d="M579.3,472.5L579.1,475.1M574.2,475.0L574.9,477.2M569.9,478.2L571.2,479.9M566.3,482.0L568.1,483.2M563.4,486.5L565.6,487.0M561.1,491.7L563.7,491.4" stroke="#808080" stroke-width="0.8"/>
<polygon points="578.5,490.8 583.2,484.1 591.6,483.1 598.7,479.3 595.8,484.3 591.8,489.8 585.0,491.6" fill="url(#xh)" stroke="#000" stroke-width="1.5" stroke-linejoin="round"/><path d="M578.5,490.8L597.2,481.8" stroke="#000" stroke-width="1"/><circle cx="586.7" cy="486.5" r="1.8" fill="#000"/>
<polygon points="572.6,523.2 575.7,515.8 583.3,513.5 589.3,508.6 587.6,514.0 584.9,520.0 578.9,522.8" fill="url(#xh)" stroke="#000" stroke-width="1.5" stroke-linejoin="round"/><path d="M572.6,523.2L588.4,511.3" stroke="#000" stroke-width="1"/><circle cx="579.5" cy="517.6" r="1.8" fill="#000"/></g><g transform="translate(0,1046.6) scale(1,-1)"><g transform="translate(681.8,520)"><path d="M-73.6,-52.6 Q-51.9,-49.5 -41,-80.3" fill="none" stroke="#000" stroke-width="1.1"/>
<polyline points="-74.4,-53.6 -71.1,-53.0 -71.2,-56.4 -67.9,-55.8 -67.9,-59.1 -64.6,-58.5 -64.7,-61.9 -61.3,-61.3 -61.4,-64.7 -58.1,-64.1 -58.1,-67.4 -54.8,-66.8 -54.9,-70.2 -51.6,-69.6 -51.6,-73.0 -48.3,-72.4 -48.4,-75.8 -45.0,-75.2 -45.1,-78.5 -41.8,-77.9 -41.8,-81.3" fill="none" stroke="#999" stroke-width="1.3"/>
<path d="M-41,-80.3 Q-21,-63 0,-78" fill="none" stroke="#000" stroke-width="1.1"/>
<polyline points="-41.0,-81.6 -38.8,-79.0 -36.6,-81.6 -34.3,-79.1 -32.1,-81.7 -29.9,-79.1 -27.7,-81.7 -25.4,-79.2 -23.2,-81.8 -21.2,-79.2 -18.7,-81.5 -17.0,-78.7 -14.5,-81.0 -12.8,-78.2 -10.3,-80.5 -8.6,-77.7 -6.1,-80.0 -4.4,-77.2 -1.9,-79.5 -0.2,-76.7" fill="none" stroke="#999" stroke-width="1.3"/>
<path d="M-73,-46 Q-60,-27.2 -73,-8" fill="none" stroke="#000" stroke-width="1.1"/>
<polyline points="-73.2,-46.0 -75.8,-43.9 -73.2,-41.8 -75.8,-39.7 -73.2,-37.6 -75.8,-35.5 -73.2,-33.4 -75.8,-31.3 -73.2,-29.2 -75.8,-27.1 -73.2,-24.9 -75.8,-22.8 -73.2,-20.7 -75.8,-18.6 -73.2,-16.5 -75.8,-14.4 -73.2,-12.3 -75.8,-10.2 -73.2,-8.1 -75.8,-6.0" fill="none" stroke="#999" stroke-width="1.3"/>
<path d="M-65,-26.5 C-40,-25 -15,-15 0,0" fill="none" stroke="#000" stroke-width="2.8"/>
<path d="M-65,-26.5 C-40,-25 -15,-15 0,0" fill="none" stroke="#aaa" stroke-width="1.0"/>
<path d="M-21,-72 C-21,-50 -14,-20 0,0" fill="none" stroke="#000" stroke-width="2.8"/>
<path d="M-21,-72 C-21,-50 -14,-20 0,0" fill="none" stroke="#aaa" stroke-width="1.0"/>
<rect x="-68" y="-28.5" width="7" height="4" fill="#000"/>
<rect x="-23" y="-72" width="4" height="6" fill="#000"/>
<path d="M-55,-12 C-45,-20 -25,-20 0,0" fill="none" stroke="#000" stroke-width="1.6"/>
<path d="M-5,-59 C-22,-57 -23,-25 0,0" fill="none" stroke="#000" stroke-width="1.6"/>
<path d="M-57,-42 C-52,-44 -48,-44 -42,-44" fill="none" stroke="#000" stroke-width="1.6"/>
<g transform="rotate(-130.8)"><path d="M1,0 H82" stroke="#000" stroke-width="2.2"/><rect x="29" y="-3.6" width="29" height="7.2" rx="1.5" fill="url(#dk)" stroke="#000" stroke-width="1.1"/><rect x="33" y="-2" width="4" height="4" fill="#fff" stroke="#000" stroke-width="0.6"/><rect x="76" y="-2.2" width="7" height="4.4" fill="#000"/></g>
<circle cx="-43.6" cy="-50.3" r="7.2" fill="url(#dots)" stroke="#000" stroke-width="1.8"/><path d="M-50.800000000000004,-50.3 h14.4 M-43.6,-57.5 v14.4" stroke="#000" stroke-width="0.8"/><circle cx="-43.6" cy="-50.3" r="3.9600000000000004" fill="none" stroke="#000" stroke-width="0.8"/>
<polygon points="-59.0,-29.9 -65.5,-33.2 -69.1,-43.1 -66.2,-49.7 -57.6,-43.9 -56.2,-39.9" fill="url(#xh)" stroke="#000" stroke-width="1.8" stroke-linejoin="round"/><path d="M-65.5,-33.2 L-62.6,-39.8 L-69.1,-43.1M-59.0,-29.9L-66.2,-49.7M-62.6,-39.8L-56.2,-39.9M-62.6,-39.8L-57.6,-43.9M-65.5,-33.2L-60.5,-33.9M-69.1,-43.1L-64.8,-45.7" stroke="#000" stroke-width="0.8" fill="none"/>
<polygon points="-53.5,-1.9 -60.7,-2.7 -66.1,-10.4 -64.4,-17.4 -54.7,-15.0 -52.5,-11.9" fill="url(#xh)" stroke="#000" stroke-width="1.8" stroke-linejoin="round"/><path d="M-60.7,-2.7 L-59.0,-9.7 L-66.1,-10.4M-53.5,-1.9L-64.4,-17.4M-59.0,-9.7L-52.5,-11.9M-59.0,-9.7L-54.7,-15.0M-60.7,-2.7L-55.7,-5.0M-66.1,-10.4L-62.3,-14.3" stroke="#000" stroke-width="0.8" fill="none"/>
<polygon points="-4.1,-70.5 2.1,-69.1 6.8,-61.4 5.4,-55.2 -3.1,-58.4 -5.0,-61.5" fill="url(#xh)" stroke="#000" stroke-width="1.8" stroke-linejoin="round"/><path d="M2.1,-69.1 L0.6,-62.9 L6.8,-61.4M-4.1,-70.5L5.4,-55.2M0.6,-62.9L-5.0,-61.5M0.6,-62.9L-3.1,-58.4M2.1,-69.1L-2.2,-67.4M6.8,-61.4L3.5,-58.3" stroke="#000" stroke-width="0.8" fill="none"/></g><g transform="translate(756.8,520)"><path d="M-73.6,-52.6 Q-51.9,-49.5 -41,-80.3" fill="none" stroke="#000" stroke-width="1.1"/>
<polyline points="-74.4,-53.6 -71.1,-53.0 -71.2,-56.4 -67.9,-55.8 -67.9,-59.1 -64.6,-58.5 -64.7,-61.9 -61.3,-61.3 -61.4,-64.7 -58.1,-64.1 -58.1,-67.4 -54.8,-66.8 -54.9,-70.2 -51.6,-69.6 -51.6,-73.0 -48.3,-72.4 -48.4,-75.8 -45.0,-75.2 -45.1,-78.5 -41.8,-77.9 -41.8,-81.3" fill="none" stroke="#999" stroke-width="1.3"/>
<path d="M-41,-80.3 Q-21,-63 0,-78" fill="none" stroke="#000" stroke-width="1.1"/>
<polyline points="-41.0,-81.6 -38.8,-79.0 -36.6,-81.6 -34.3,-79.1 -32.1,-81.7 -29.9,-79.1 -27.7,-81.7 -25.4,-79.2 -23.2,-81.8 -21.2,-79.2 -18.7,-81.5 -17.0,-78.7 -14.5,-81.0 -12.8,-78.2 -10.3,-80.5 -8.6,-77.7 -6.1,-80.0 -4.4,-77.2 -1.9,-79.5 -0.2,-76.7" fill="none" stroke="#999" stroke-width="1.3"/>
<path d="M-73,-46 Q-60,-27.2 -73,-8" fill="none" stroke="#000" stroke-width="1.1"/>
<polyline points="-73.2,-46.0 -75.8,-43.9 -73.2,-41.8 -75.8,-39.7 -73.2,-37.6 -75.8,-35.5 -73.2,-33.4 -75.8,-31.3 -73.2,-29.2 -75.8,-27.1 -73.2,-24.9 -75.8,-22.8 -73.2,-20.7 -75.8,-18.6 -73.2,-16.5 -75.8,-14.4 -73.2,-12.3 -75.8,-10.2 -73.2,-8.1 -75.8,-6.0" fill="none" stroke="#999" stroke-width="1.3"/>
<path d="M-65,-26.5 C-40,-25 -15,-15 0,0" fill="none" stroke="#000" stroke-width="2.8"/>
<path d="M-65,-26.5 C-40,-25 -15,-15 0,0" fill="none" stroke="#aaa" stroke-width="1.0"/>
<path d="M-21,-72 C-21,-50 -14,-20 0,0" fill="none" stroke="#000" stroke-width="2.8"/>
<path d="M-21,-72 C-21,-50 -14,-20 0,0" fill="none" stroke="#aaa" stroke-width="1.0"/>
<rect x="-68" y="-28.5" width="7" height="4" fill="#000"/>
<rect x="-23" y="-72" width="4" height="6" fill="#000"/>
<path d="M-55,-12 C-45,-20 -25,-20 0,0" fill="none" stroke="#000" stroke-width="1.6"/>
<path d="M-5,-59 C-22,-57 -23,-25 0,0" fill="none" stroke="#000" stroke-width="1.6"/>
<path d="M-57,-42 C-52,-44 -48,-44 -42,-44" fill="none" stroke="#000" stroke-width="1.6"/>
<g transform="rotate(-130.8)"><path d="M1,0 H82" stroke="#000" stroke-width="2.2"/><rect x="29" y="-3.6" width="29" height="7.2" rx="1.5" fill="url(#dk)" stroke="#000" stroke-width="1.1"/><rect x="33" y="-2" width="4" height="4" fill="#fff" stroke="#000" stroke-width="0.6"/><rect x="76" y="-2.2" width="7" height="4.4" fill="#000"/></g>
<circle cx="-43.6" cy="-50.3" r="7.2" fill="url(#dots)" stroke="#000" stroke-width="1.8"/><path d="M-50.800000000000004,-50.3 h14.4 M-43.6,-57.5 v14.4" stroke="#000" stroke-width="0.8"/><circle cx="-43.6" cy="-50.3" r="3.9600000000000004" fill="none" stroke="#000" stroke-width="0.8"/>
<polygon points="-59.0,-29.9 -65.5,-33.2 -69.1,-43.1 -66.2,-49.7 -57.6,-43.9 -56.2,-39.9" fill="url(#xh)" stroke="#000" stroke-width="1.8" stroke-linejoin="round"/><path d="M-65.5,-33.2 L-62.6,-39.8 L-69.1,-43.1M-59.0,-29.9L-66.2,-49.7M-62.6,-39.8L-56.2,-39.9M-62.6,-39.8L-57.6,-43.9M-65.5,-33.2L-60.5,-33.9M-69.1,-43.1L-64.8,-45.7" stroke="#000" stroke-width="0.8" fill="none"/>
<polygon points="-53.5,-1.9 -60.7,-2.7 -66.1,-10.4 -64.4,-17.4 -54.7,-15.0 -52.5,-11.9" fill="url(#xh)" stroke="#000" stroke-width="1.8" stroke-linejoin="round"/><path d="M-60.7,-2.7 L-59.0,-9.7 L-66.1,-10.4M-53.5,-1.9L-64.4,-17.4M-59.0,-9.7L-52.5,-11.9M-59.0,-9.7L-54.7,-15.0M-60.7,-2.7L-55.7,-5.0M-66.1,-10.4L-62.3,-14.3" stroke="#000" stroke-width="0.8" fill="none"/>
<polygon points="-4.1,-70.5 2.1,-69.1 6.8,-61.4 5.4,-55.2 -3.1,-58.4 -5.0,-61.5" fill="url(#xh)" stroke="#000" stroke-width="1.8" stroke-linejoin="round"/><path d="M2.1,-69.1 L0.6,-62.9 L6.8,-61.4M-4.1,-70.5L5.4,-55.2M0.6,-62.9L-5.0,-61.5M0.6,-62.9L-3.1,-58.4M2.1,-69.1L-2.2,-67.4M6.8,-61.4L3.5,-58.3" stroke="#000" stroke-width="0.8" fill="none"/></g><path d="M583,490 C600,505 615,515 640,521" fill="none" stroke="#000" stroke-width="2.6"/>
<path d="M583,490 C600,505 615,515 640,521" fill="none" stroke="#999" stroke-width="0.8"/>
<path d="M594,487 C600,500 610,512 640,521" fill="none" stroke="#000" stroke-width="1.6"/>
<path d="M588,521 C600,512 612,512 640,521" fill="none" stroke="#000" stroke-width="1.4"/>
<path d="M585.0,470.7 C583.1,469.6 578.5,471.1 579.3,472.5 C577.4,471.5 573.4,473.5 574.2,475.0 C572.4,474.1 569.0,476.6 569.9,478.2 C568.2,477.3 565.3,480.4 566.3,482.0 C564.6,481.2 562.3,484.8 563.4,486.5 C561.8,485.7 560.0,489.9 561.1,491.7 C559.6,491.0 558.4,495.6 559.6,497.5 L578.3,489.5 Z" fill="#fff" stroke="#808080" stroke-width="1.0"/><path d="M585.0,470.7 Q582.7,481.1 578.3,489.5 L559.6,497.5" fill="none" stroke="#333" stroke-width="1.0"/><path d="M579.3,472.5L579.1,475.1M574.2,475.0L574.9,477.2M569.9,478.2L571.2,479.9M566.3,482.0L568.1,483.2M563.4,486.5L565.6,487.0M561.1,491.7L563.7,491.4" stroke="#808080" stroke-width="0.8"/>
<polygon points="578.5,490.8 583.2,484.1 591.6,483.1 598.7,479.3 595.8,484.3 591.8,489.8 585.0,491.6" fill="url(#xh)" stroke="#000" stroke-width="1.5" stroke-linejoin="round"/><path d="M578.5,490.8L597.2,481.8" stroke="#000" stroke-width="1"/><circle cx="586.7" cy="486.5" r="1.8" fill="#000"/>
<polygon points="572.6,523.2 575.7,515.8 583.3,513.5 589.3,508.6 587.6,514.0 584.9,520.0 578.9,522.8" fill="url(#xh)" stroke="#000" stroke-width="1.5" stroke-linejoin="round"/><path d="M572.6,523.2L588.4,511.3" stroke="#000" stroke-width="1"/><circle cx="579.5" cy="517.6" r="1.8" fill="#000"/><g transform="translate(1520.8,0) scale(-1,1)"><g transform="translate(681.8,520)"><path d="M-73.6,-52.6 Q-51.9,-49.5 -41,-80.3" fill="none" stroke="#000" stroke-width="1.1"/>
<polyline points="-74.4,-53.6 -71.1,-53.0 -71.2,-56.4 -67.9,-55.8 -67.9,-59.1 -64.6,-58.5 -64.7,-61.9 -61.3,-61.3 -61.4,-64.7 -58.1,-64.1 -58.1,-67.4 -54.8,-66.8 -54.9,-70.2 -51.6,-69.6 -51.6,-73.0 -48.3,-72.4 -48.4,-75.8 -45.0,-75.2 -45.1,-78.5 -41.8,-77.9 -41.8,-81.3" fill="none" stroke="#999" stroke-width="1.3"/>
<path d="M-41,-80.3 Q-21,-63 0,-78" fill="none" stroke="#000" stroke-width="1.1"/>
<polyline points="-41.0,-81.6 -38.8,-79.0 -36.6,-81.6 -34.3,-79.1 -32.1,-81.7 -29.9,-79.1 -27.7,-81.7 -25.4,-79.2 -23.2,-81.8 -21.2,-79.2 -18.7,-81.5 -17.0,-78.7 -14.5,-81.0 -12.8,-78.2 -10.3,-80.5 -8.6,-77.7 -6.1,-80.0 -4.4,-77.2 -1.9,-79.5 -0.2,-76.7" fill="none" stroke="#999" stroke-width="1.3"/>
<path d="M-73,-46 Q-60,-27.2 -73,-8" fill="none" stroke="#000" stroke-width="1.1"/>
<polyline points="-73.2,-46.0 -75.8,-43.9 -73.2,-41.8 -75.8,-39.7 -73.2,-37.6 -75.8,-35.5 -73.2,-33.4 -75.8,-31.3 -73.2,-29.2 -75.8,-27.1 -73.2,-24.9 -75.8,-22.8 -73.2,-20.7 -75.8,-18.6 -73.2,-16.5 -75.8,-14.4 -73.2,-12.3 -75.8,-10.2 -73.2,-8.1 -75.8,-6.0" fill="none" stroke="#999" stroke-width="1.3"/>
<path d="M-65,-26.5 C-40,-25 -15,-15 0,0" fill="none" stroke="#000" stroke-width="2.8"/>
<path d="M-65,-26.5 C-40,-25 -15,-15 0,0" fill="none" stroke="#aaa" stroke-width="1.0"/>
<path d="M-21,-72 C-21,-50 -14,-20 0,0" fill="none" stroke="#000" stroke-width="2.8"/>
<path d="M-21,-72 C-21,-50 -14,-20 0,0" fill="none" stroke="#aaa" stroke-width="1.0"/>
<rect x="-68" y="-28.5" width="7" height="4" fill="#000"/>
<rect x="-23" y="-72" width="4" height="6" fill="#000"/>
<path d="M-55,-12 C-45,-20 -25,-20 0,0" fill="none" stroke="#000" stroke-width="1.6"/>
<path d="M-5,-59 C-22,-57 -23,-25 0,0" fill="none" stroke="#000" stroke-width="1.6"/>
<path d="M-57,-42 C-52,-44 -48,-44 -42,-44" fill="none" stroke="#000" stroke-width="1.6"/>
<g transform="rotate(-130.8)"><path d="M1,0 H82" stroke="#000" stroke-width="2.2"/><rect x="29" y="-3.6" width="29" height="7.2" rx="1.5" fill="url(#dk)" stroke="#000" stroke-width="1.1"/><rect x="33" y="-2" width="4" height="4" fill="#fff" stroke="#000" stroke-width="0.6"/><rect x="76" y="-2.2" width="7" height="4.4" fill="#000"/></g>
<circle cx="-43.6" cy="-50.3" r="7.2" fill="url(#dots)" stroke="#000" stroke-width="1.8"/><path d="M-50.800000000000004,-50.3 h14.4 M-43.6,-57.5 v14.4" stroke="#000" stroke-width="0.8"/><circle cx="-43.6" cy="-50.3" r="3.9600000000000004" fill="none" stroke="#000" stroke-width="0.8"/>
<polygon points="-59.0,-29.9 -65.5,-33.2 -69.1,-43.1 -66.2,-49.7 -57.6,-43.9 -56.2,-39.9" fill="url(#xh)" stroke="#000" stroke-width="1.8" stroke-linejoin="round"/><path d="M-65.5,-33.2 L-62.6,-39.8 L-69.1,-43.1M-59.0,-29.9L-66.2,-49.7M-62.6,-39.8L-56.2,-39.9M-62.6,-39.8L-57.6,-43.9M-65.5,-33.2L-60.5,-33.9M-69.1,-43.1L-64.8,-45.7" stroke="#000" stroke-width="0.8" fill="none"/>
<polygon points="-53.5,-1.9 -60.7,-2.7 -66.1,-10.4 -64.4,-17.4 -54.7,-15.0 -52.5,-11.9" fill="url(#xh)" stroke="#000" stroke-width="1.8" stroke-linejoin="round"/><path d="M-60.7,-2.7 L-59.0,-9.7 L-66.1,-10.4M-53.5,-1.9L-64.4,-17.4M-59.0,-9.7L-52.5,-11.9M-59.0,-9.7L-54.7,-15.0M-60.7,-2.7L-55.7,-5.0M-66.1,-10.4L-62.3,-14.3" stroke="#000" stroke-width="0.8" fill="none"/>
<polygon points="-4.1,-70.5 2.1,-69.1 6.8,-61.4 5.4,-55.2 -3.1,-58.4 -5.0,-61.5" fill="url(#xh)" stroke="#000" stroke-width="1.8" stroke-linejoin="round"/><path d="M2.1,-69.1 L0.6,-62.9 L6.8,-61.4M-4.1,-70.5L5.4,-55.2M0.6,-62.9L-5.0,-61.5M0.6,-62.9L-3.1,-58.4M2.1,-69.1L-2.2,-67.4M6.8,-61.4L3.5,-58.3" stroke="#000" stroke-width="0.8" fill="none"/></g><g transform="translate(756.8,520)"><path d="M-73.6,-52.6 Q-51.9,-49.5 -41,-80.3" fill="none" stroke="#000" stroke-width="1.1"/>
<polyline points="-74.4,-53.6 -71.1,-53.0 -71.2,-56.4 -67.9,-55.8 -67.9,-59.1 -64.6,-58.5 -64.7,-61.9 -61.3,-61.3 -61.4,-64.7 -58.1,-64.1 -58.1,-67.4 -54.8,-66.8 -54.9,-70.2 -51.6,-69.6 -51.6,-73.0 -48.3,-72.4 -48.4,-75.8 -45.0,-75.2 -45.1,-78.5 -41.8,-77.9 -41.8,-81.3" fill="none" stroke="#999" stroke-width="1.3"/>
<path d="M-41,-80.3 Q-21,-63 0,-78" fill="none" stroke="#000" stroke-width="1.1"/>
<polyline points="-41.0,-81.6 -38.8,-79.0 -36.6,-81.6 -34.3,-79.1 -32.1,-81.7 -29.9,-79.1 -27.7,-81.7 -25.4,-79.2 -23.2,-81.8 -21.2,-79.2 -18.7,-81.5 -17.0,-78.7 -14.5,-81.0 -12.8,-78.2 -10.3,-80.5 -8.6,-77.7 -6.1,-80.0 -4.4,-77.2 -1.9,-79.5 -0.2,-76.7" fill="none" stroke="#999" stroke-width="1.3"/>
<path d="M-73,-46 Q-60,-27.2 -73,-8" fill="none" stroke="#000" stroke-width="1.1"/>
<polyline points="-73.2,-46.0 -75.8,-43.9 -73.2,-41.8 -75.8,-39.7 -73.2,-37.6 -75.8,-35.5 -73.2,-33.4 -75.8,-31.3 -73.2,-29.2 -75.8,-27.1 -73.2,-24.9 -75.8,-22.8 -73.2,-20.7 -75.8,-18.6 -73.2,-16.5 -75.8,-14.4 -73.2,-12.3 -75.8,-10.2 -73.2,-8.1 -75.8,-6.0" fill="none" stroke="#999" stroke-width="1.3"/>
<path d="M-65,-26.5 C-40,-25 -15,-15 0,0" fill="none" stroke="#000" stroke-width="2.8"/>
<path d="M-65,-26.5 C-40,-25 -15,-15 0,0" fill="none" stroke="#aaa" stroke-width="1.0"/>
<path d="M-21,-72 C-21,-50 -14,-20 0,0" fill="none" stroke="#000" stroke-width="2.8"/>
<path d="M-21,-72 C-21,-50 -14,-20 0,0" fill="none" stroke="#aaa" stroke-width="1.0"/>
<rect x="-68" y="-28.5" width="7" height="4" fill="#000"/>
<rect x="-23" y="-72" width="4" height="6" fill="#000"/>
<path d="M-55,-12 C-45,-20 -25,-20 0,0" fill="none" stroke="#000" stroke-width="1.6"/>
<path d="M-5,-59 C-22,-57 -23,-25 0,0" fill="none" stroke="#000" stroke-width="1.6"/>
<path d="M-57,-42 C-52,-44 -48,-44 -42,-44" fill="none" stroke="#000" stroke-width="1.6"/>
<g transform="rotate(-130.8)"><path d="M1,0 H82" stroke="#000" stroke-width="2.2"/><rect x="29" y="-3.6" width="29" height="7.2" rx="1.5" fill="url(#dk)" stroke="#000" stroke-width="1.1"/><rect x="33" y="-2" width="4" height="4" fill="#fff" stroke="#000" stroke-width="0.6"/><rect x="76" y="-2.2" width="7" height="4.4" fill="#000"/></g>
<circle cx="-43.6" cy="-50.3" r="7.2" fill="url(#dots)" stroke="#000" stroke-width="1.8"/><path d="M-50.800000000000004,-50.3 h14.4 M-43.6,-57.5 v14.4" stroke="#000" stroke-width="0.8"/><circle cx="-43.6" cy="-50.3" r="3.9600000000000004" fill="none" stroke="#000" stroke-width="0.8"/>
<polygon points="-59.0,-29.9 -65.5,-33.2 -69.1,-43.1 -66.2,-49.7 -57.6,-43.9 -56.2,-39.9" fill="url(#xh)" stroke="#000" stroke-width="1.8" stroke-linejoin="round"/><path d="M-65.5,-33.2 L-62.6,-39.8 L-69.1,-43.1M-59.0,-29.9L-66.2,-49.7M-62.6,-39.8L-56.2,-39.9M-62.6,-39.8L-57.6,-43.9M-65.5,-33.2L-60.5,-33.9M-69.1,-43.1L-64.8,-45.7" stroke="#000" stroke-width="0.8" fill="none"/>
<polygon points="-53.5,-1.9 -60.7,-2.7 -66.1,-10.4 -64.4,-17.4 -54.7,-15.0 -52.5,-11.9" fill="url(#xh)" stroke="#000" stroke-width="1.8" stroke-linejoin="round"/><path d="M-60.7,-2.7 L-59.0,-9.7 L-66.1,-10.4M-53.5,-1.9L-64.4,-17.4M-59.0,-9.7L-52.5,-11.9M-59.0,-9.7L-54.7,-15.0M-60.7,-2.7L-55.7,-5.0M-66.1,-10.4L-62.3,-14.3" stroke="#000" stroke-width="0.8" fill="none"/>
<polygon points="-4.1,-70.5 2.1,-69.1 6.8,-61.4 5.4,-55.2 -3.1,-58.4 -5.0,-61.5" fill="url(#xh)" stroke="#000" stroke-width="1.8" stroke-linejoin="round"/><path d="M2.1,-69.1 L0.6,-62.9 L6.8,-61.4M-4.1,-70.5L5.4,-55.2M0.6,-62.9L-5.0,-61.5M0.6,-62.9L-3.1,-58.4M2.1,-69.1L-2.2,-67.4M6.8,-61.4L3.5,-58.3" stroke="#000" stroke-width="0.8" fill="none"/></g><path d="M583,490 C600,505 615,515 640,521" fill="none" stroke="#000" stroke-width="2.6"/>
<path d="M583,490 C600,505 615,515 640,521" fill="none" stroke="#999" stroke-width="0.8"/>
<path d="M594,487 C600,500 610,512 640,521" fill="none" stroke="#000" stroke-width="1.6"/>
<path d="M588,521 C600,512 612,512 640,521" fill="none" stroke="#000" stroke-width="1.4"/>
<path d="M585.0,470.7 C583.1,469.6 578.5,471.1 579.3,472.5 C577.4,471.5 573.4,473.5 574.2,475.0 C572.4,474.1 569.0,476.6 569.9,478.2 C568.2,477.3 565.3,480.4 566.3,482.0 C564.6,481.2 562.3,484.8 563.4,486.5 C561.8,485.7 560.0,489.9 561.1,491.7 C559.6,491.0 558.4,495.6 559.6,497.5 L578.3,489.5 Z" fill="#fff" stroke="#808080" stroke-width="1.0"/><path d="M585.0,470.7 Q582.7,481.1 578.3,489.5 L559.6,497.5" fill="none" stroke="#333" stroke-width="1.0"/><path d="M579.3,472.5L579.1,475.1M574.2,475.0L574.9,477.2M569.9,478.2L571.2,479.9M566.3,482.0L568.1,483.2M563.4,486.5L565.6,487.0M561.1,491.7L563.7,491.4" stroke="#808080" stroke-width="0.8"/>
<polygon points="578.5,490.8 583.2,484.1 591.6,483.1 598.7,479.3 595.8,484.3 591.8,489.8 585.0,491.6" fill="url(#xh)" stroke="#000" stroke-width="1.5" stroke-linejoin="round"/><path d="M578.5,490.8L597.2,481.8" stroke="#000" stroke-width="1"/><circle cx="586.7" cy="486.5" r="1.8" fill="#000"/>
<polygon points="572.6,523.2 575.7,515.8 583.3,513.5 589.3,508.6 587.6,514.0 584.9,520.0 578.9,522.8" fill="url(#xh)" stroke="#000" stroke-width="1.5" stroke-linejoin="round"/><path d="M572.6,523.2L588.4,511.3" stroke="#000" stroke-width="1"/><circle cx="579.5" cy="517.6" r="1.8" fill="#000"/></g></g><path d="M586,523.3 H634 M887,523.3 H935" stroke="#000" stroke-width="1.2"/><path d="M620,520.1 H901 M620,526.5 H901" stroke="#000" stroke-width="1.3"/><rect x="616" y="520.2" width="17.6" height="6.3" fill="#fff" stroke="#000" stroke-width="1.1"/><path d="M620.5,520.2v6.3" stroke="#000"/><rect x="887.2" y="520.2" width="17.6" height="6.3" fill="#fff" stroke="#000" stroke-width="1.1"/><path d="M900.3,520.2v6.3" stroke="#000"/><path d="M575.0,523.3 C578.1,524.8 576.2,534.1 573.0,532.5 C575.0,536.6 569.9,542.3 567.9,538.2 C568.0,543.3 561.6,543.3 561.7,538.2 C559.7,542.3 554.6,536.6 556.6,532.5 C553.4,534.1 551.5,524.8 554.6,523.3 C551.5,521.8 553.4,512.5 556.6,514.1 C554.6,510.0 559.7,504.3 561.7,508.4 C561.6,503.3 568.0,503.3 567.9,508.4 C569.9,504.3 575.0,510.0 573.0,514.1 C576.2,512.5 578.1,521.8 575.0,523.3Z" fill="#fff" stroke="#000" stroke-width="1.1"/><path d="M571.2,523.3L574.7,523.3M570.0,529.1L572.8,532.3M566.8,532.7L567.9,537.9M562.8,532.7L561.7,537.9M559.6,529.1L556.8,532.3M558.4,523.3L554.9,523.3M559.6,517.5L556.8,514.3M562.8,513.9L561.7,508.7M566.8,513.9L567.9,508.7M570.0,517.5L572.8,514.3" stroke="#000" stroke-width="1.1" fill="none"/><path d="M965.7,528.1 C968.4,531.1 964.7,539.0 962.0,536.0 C963.0,540.8 957.0,543.8 956.0,539.0 C955.0,543.8 949.0,540.8 950.0,536.0 C947.3,539.0 943.6,531.1 946.3,528.1 C943.0,528.2 943.0,518.4 946.3,518.5 C943.6,515.5 947.3,507.6 950.0,510.6 C949.0,505.8 955.0,502.8 956.0,507.6 C957.0,502.8 963.0,505.8 962.0,510.6 C964.7,507.6 968.4,515.5 965.7,518.5 C969.0,518.4 969.0,528.2 965.7,528.1Z" fill="#fff" stroke="#000" stroke-width="1.1"/><path d="M962.1,526.4L965.5,528.0M959.8,531.3L961.8,535.7M956.0,533.2L956.0,538.6M952.2,531.3L950.2,535.7M949.9,526.4L946.5,528.0M949.9,520.2L946.5,518.6M952.2,515.3L950.2,510.9M956.0,513.4L956.0,508.0M959.8,515.3L961.8,510.9M962.1,520.2L965.5,518.6" stroke="#000" stroke-width="1.1" fill="none"/>
<path d="M82.3,31.0L85.1,28.2M82.3,33.8L87.9,28.2M82.3,36.6L90.7,28.2M82.3,39.4L93.5,28.2M83.3,41.2L96.3,28.2M86.1,41.2L99.1,28.2M88.9,41.2L101.9,28.2M91.7,41.2L104.7,28.2M94.5,41.2L107.5,28.2M97.3,41.2L110.3,28.2M100.1,41.2L113.1,28.2M102.9,41.2L115.9,28.2M105.7,41.2L118.7,28.2M108.5,41.2L121.5,28.2M111.3,41.2L124.3,28.2M114.1,41.2L127.1,28.2M116.9,41.2L129.9,28.2M119.7,41.2L132.7,28.2M122.5,41.2L135.5,28.2M125.3,41.2L138.3,28.2M128.1,41.2L141.1,28.2M130.9,41.2L143.9,28.2M133.7,41.2L146.7,28.2M136.5,41.2L149.5,28.2M139.3,41.2L152.3,28.2M142.1,41.2L155.1,28.2M144.9,41.2L157.9,28.2M147.7,41.2L160.7,28.2M150.5,41.2L163.5,28.2M153.3,41.2L166.3,28.2M156.1,41.2L169.1,28.2M158.9,41.2L171.9,28.2M161.7,41.2L174.7,28.2M164.5,41.2L177.5,28.2M167.3,41.2L180.3,28.2M170.1,41.2L183.1,28.2M172.9,41.2L185.9,28.2M175.7,41.2L188.7,28.2M178.5,41.2L188.7,31.0M181.3,41.2L188.7,33.8M184.1,41.2L188.7,36.6M186.9,41.2L188.7,39.4" stroke="#000" stroke-width="1.15" fill="none"/>
<path d="M81,41.6 H188.7" stroke="#000" stroke-width="1.2"/>
<path d="M274.3,31.0L277.1,28.2M274.3,33.8L279.9,28.2M274.3,36.6L282.7,28.2M274.3,39.4L285.5,28.2M275.3,41.2L288.3,28.2M278.1,41.2L291.1,28.2M280.9,41.2L293.9,28.2M283.7,41.2L296.7,28.2M286.5,41.2L299.5,28.2M289.3,41.2L302.3,28.2M292.1,41.2L305.1,28.2M294.9,41.2L307.9,28.2M297.7,41.2L310.7,28.2M300.5,41.2L313.5,28.2M303.3,41.2L316.3,28.2M306.1,41.2L319.1,28.2M308.9,41.2L321.9,28.2M311.7,41.2L324.7,28.2M314.5,41.2L327.5,28.2M317.3,41.2L330.3,28.2M320.1,41.2L333.1,28.2M322.9,41.2L335.9,28.2M325.7,41.2L338.7,28.2M328.5,41.2L341.5,28.2M331.3,41.2L344.3,28.2M334.1,41.2L347.1,28.2M336.9,41.2L349.9,28.2M339.7,41.2L352.7,28.2M342.5,41.2L355.5,28.2M345.3,41.2L358.3,28.2M348.1,41.2L361.1,28.2M350.9,41.2L363.9,28.2M353.7,41.2L366.7,28.2M356.5,41.2L369.5,28.2M359.3,41.2L372.3,28.2M362.1,41.2L375.1,28.2M364.9,41.2L377.9,28.2M367.7,41.2L380.7,28.2M370.5,41.2L380.7,31.0M373.3,41.2L380.7,33.8M376.1,41.2L380.7,36.6M378.9,41.2L380.7,39.4" stroke="#000" stroke-width="1.15" fill="none"/>
<path d="M273,41.6 H380.7" stroke="#000" stroke-width="1.2"/>
<path d="M115.4,62 V119 M121.7,44 V72 M147.7,44 V72 M154,62 V119" stroke="#d0d0d0" stroke-width="0.9"/>
<path d="M121.7,34.4 L119.9,40.9 L123.5,40.9 Z" fill="#000"/><rect x="119.9" y="40.9" width="3.6" height="3.4" fill="#fff" stroke="#000" stroke-width="0.8"/>
<path d="M147.7,34.4 L145.89999999999998,40.9 L149.5,40.9 Z" fill="#000"/><rect x="145.89999999999998" y="40.9" width="3.6" height="3.4" fill="#fff" stroke="#000" stroke-width="0.8"/>
<path d="M327.5,35 L325.7,41.5 L329.3,41.5 Z" fill="#000"/><rect x="325.7" y="41.5" width="3.6" height="3.4" fill="#fff" stroke="#000" stroke-width="0.8"/>
<path d="M59,44.5 H117.4 M58,78.9 H117 M254.5,44.6 H313.2 M257.9,78.6 H317.1" stroke="#333" stroke-width="1.5"/>
<g stroke="#000" stroke-width="1.1" fill="#fff" stroke-linejoin="round"><path d="M113.3,51.6 L152.9,51.6 L158,56 L118.5,56 Z"/><path d="M118.5,56 H154 V61.8 H118.5 Z"/><path d="M110.7,60.4 L113.3,51.6 L119,56 L118.5,67.7 Z"/><path d="M154,56 L158,56 L159.7,58.3 L159,68.2 L154.5,66 Z"/></g>
<path d="M119,53.5 H153" stroke="#999" stroke-width="1.4"/>
<path d="M121,58.8 C124,56.5 131,56.5 135.2,58.8 C139,61 146,61 150,58.8 M121,58.8 C124,61 131,61 135.2,58.8 C139,56.5 146,56.5 150,58.8" fill="none" stroke="#000" stroke-width="0.8"/><circle cx="135.2" cy="58.8" r="1.4" fill="#000"/><circle cx="114.5" cy="61" r="1" fill="#000"/><circle cx="156.5" cy="62" r="1" fill="#000"/>
<path d="M121.7,71.9 L120.10000000000001,82.9 L123.3,82.9 Z" fill="#000"/><path d="M116.7,87.4 C116.7,84.9 126.7,84.9 126.7,87.9 C126.7,90.9 121.7,90.9 120.7,89.9" fill="none" stroke="#000" stroke-width="1.1"/>
<path d="M147.7,71.9 L146.1,82.9 L149.29999999999998,82.9 Z" fill="#000"/><path d="M142.7,87.4 C142.7,84.9 152.7,84.9 152.7,87.9 C152.7,90.9 147.7,90.9 146.7,89.9" fill="none" stroke="#000" stroke-width="1.1"/>
<path d="M327.5,71.8 L325.9,82.8 L329.1,82.8 Z" fill="#000"/><path d="M322.5,87.3 C322.5,84.8 332.5,84.8 332.5,87.8 C332.5,90.8 327.5,90.8 326.5,89.8" fill="none" stroke="#000" stroke-width="1.1"/>
<rect x="325.7" y="52.5" width="4.5" height="10" fill="#fff" stroke="#000" stroke-width="1.2"/>
<rect x="111.2" y="119" width="47.4" height="9.2" fill="#fff" stroke="#000" stroke-width="1.2"/>
<path d="M108.9,128.4 H161.9" stroke="#000" stroke-width="1.6"/>
<rect x="99.5" y="121.6" width="11.5" height="4.8" fill="#000"/><ellipse cx="99.5" cy="124" rx="1.6" ry="2.6" fill="#000"/>
<rect x="158.6" y="121.6" width="12" height="4.8" fill="#000"/><ellipse cx="170.6" cy="124" rx="1.6" ry="2.6" fill="#000"/>
<path d="M94.5,118.5 C90,120 90,127 94.5,129" fill="none" stroke="#000" stroke-width="1.1"/>
<path d="M175,118.5 C180,120 180,127 175,129" fill="none" stroke="#000" stroke-width="1.1"/>
<path d="M135.3,128 L135.3,119 C136,114 140,110 152,104 C165,97 180,91 196,91.5 C210,92 216,97 217,104 C218,110 217.5,116 218,120" fill="none" stroke="#000" stroke-width="3"/>
<path d="M136,114 C140,110 150,105 160,100" fill="none" stroke="#fff" stroke-width="0.6"/>
<path d="M135.3,128 C134.5,180 134.6,250 134.6,326 L134.5,357 M134.6,326 L139,357" fill="none" stroke="#000" stroke-width="2.6"/>
<rect x="132.5" y="126" width="6" height="3" fill="#bbb" stroke="#555" stroke-width="0.6"/>
<g stroke="#000" stroke-width="1.6" fill="#666"><circle cx="217.5" cy="123.5" r="3"/><circle cx="223" cy="124.5" r="3"/><circle cx="216.5" cy="129" r="2.8"/><circle cx="221.5" cy="130" r="2.8"/><circle cx="226" cy="127.5" r="2.6"/><circle cx="218" cy="133" r="1.8"/></g>
<path d="M175.2,147 L205,133.2 M58,147.2 L102.6,128.4 M58,171.4 L108.2,131.6" stroke="#000" stroke-width="1.1" fill="none"/>
<path d="M212.5,140 C205,150 205,165 216.4,176 M214.5,141 C208,152 208,165 218,173" fill="none" stroke="#000" stroke-width="0.9"/>
<rect x="216.4" y="168.8" width="42.3" height="51.5" rx="5.5" fill="#fff" stroke="#000" stroke-width="1.3"/>
<path d="M215,180 V189 M215,202 V210 M260,180 V189 M260,202 V210" stroke="#fff" stroke-width="3"/>
<g fill="#ccc" stroke="#000" stroke-width="0.7"><path d="M224.5,188 V179 L223,179 L226.2,175 L229.4,179 L227.9,179 V188 Z"/><path d="M241.9,188 V179 L240.4,179 L243.6,175 L246.8,179 L245.3,179 V188 Z"/><path d="M224.5,204 V211 L223,211 L226.2,215 L229.4,211 L227.9,211 V204 Z"/><path d="M241.9,204 V211 L240.4,211 L243.6,215 L246.8,211 L245.3,211 V204 Z"/><rect x="233.3" y="178" width="3.2" height="10"/><rect x="233.3" y="203" width="3.2" height="9"/></g>
<circle cx="234.9" cy="174" r="1.8" fill="#000"/><circle cx="234.9" cy="214.5" r="1.8" fill="#000"/>
<rect x="224.2" y="190.9" width="22.7" height="12" fill="url(#xh)" stroke="#000" stroke-width="1.2"/>
<path d="M231.8,190.9 V202.9 M239.4,190.9 V202.9" stroke="#000" stroke-width="1.2"/>
<g fill="#fff" stroke="#000" stroke-width="0.7"><circle cx="228" cy="194.2" r="1.6"/><circle cx="235.6" cy="194.2" r="1.6"/><circle cx="243.2" cy="194.2" r="1.6"/><circle cx="228" cy="199.6" r="1.6"/><circle cx="235.6" cy="199.6" r="1.6"/><circle cx="243.2" cy="199.6" r="1.6"/></g>
<g font-family="Liberation Sans" font-size="3.8" fill="#222"><text x="185.4" y="187.5" textLength="38" lengthAdjust="spacingAndGlyphs">Нейтральный провод</text><text x="185.4" y="206.9" textLength="38" lengthAdjust="spacingAndGlyphs">Нейтральный провод</text><text x="254.3" y="187.3" textLength="8.7" lengthAdjust="spacingAndGlyphs">Фаза</text><text x="254.3" y="206.9" textLength="8.7" lengthAdjust="spacingAndGlyphs">Фаза</text></g>
<rect x="325.6" y="123.6" width="4.6" height="1.8" fill="#000"/><rect x="325" y="125.4" width="5.8" height="3.4" fill="#bbb" stroke="#555" stroke-width="0.6"/><path d="M326.4,128.8 H329.4 L328.9,132.5 H326.9 Z" fill="#000"/>
<path d="M327.9,132 V354" stroke="#666" stroke-width="1.4"/>
<path d="M359.6,169.5 V139.6 H516.8 V283.1 H361.3 L344,334.7 M359.6,172.5 V223.8 L342.5,334.7" fill="none" stroke="#000" stroke-width="1.2"/>
<circle cx="378.6" cy="158.6" r="9" fill="url(#dots)" stroke="#000" stroke-width="1.8"/>
<path d="M369.6,158.6 h18 M378.6,149.6 v18 M371,154 h15 M371,163 h15" stroke="#000" stroke-width="0.8"/>
<rect x="375.2" y="167.5" width="7.6" height="12" rx="1.5" fill="#fff" stroke="#000" stroke-width="1.1"/>
<path d="M375.2,170.5 h7.6 M375.2,173.5 h7.6 M375.2,176.5 h7.6" stroke="#000" stroke-width="0.9"/>
<path d="M383.5,188.9 C387.5,189.4 389,191 388.8,192.6 C388.5,194.8 384.5,196.3 379.9,196.3 C375,196.3 371.2,194.8 371.2,192.6 C371.2,190.4 374.5,189 378,188.8" fill="none" stroke="#000" stroke-width="1.1"/>
<path d="M377.5,187.3 l3.2,1.5 l-3.2,1.6z" fill="#000"/>
<rect x="371.1" y="200.7" width="15.7" height="32.2" fill="#fff" stroke="#000" stroke-width="1.4"/>
<rect x="372" y="208.7" width="4.2" height="15" fill="url(#hatch)" stroke="#000" stroke-width="0.8"/>
<rect x="381.8" y="208.7" width="4.2" height="15" fill="url(#hatch)" stroke="#000" stroke-width="0.8"/>
<path d="M371.1,223.7 h15.7" stroke="#000" stroke-width="1.2"/>
<rect x="376.9" y="233" width="4.6" height="47.5" fill="#bbb" stroke="#555" stroke-width="0.9"/>
<path d="M382.6,271 C385,240 400,210 424.1,189.1" fill="none" stroke="#222" stroke-width="2.6"/>
<path d="M382.6,271 C385,240 400,210 424.1,189.1" fill="none" stroke="#ddd" stroke-width="0.9"/>
<path d="M382.6,262 C390,240 405,228 420.7,221.4" fill="none" stroke="#222" stroke-width="2.6"/>
<path d="M382.6,262 C390,240 405,228 420.7,221.4" fill="none" stroke="#ddd" stroke-width="0.9"/>
<rect x="422" y="182" width="4" height="8" fill="#222" transform="rotate(40 424 186)"/>
<rect x="419" y="216" width="4" height="8" fill="#222" transform="rotate(60 421 220)"/>
<path d="M422.7,152 C424,168 438,186 458.2,188.9 L466.3,190.9" fill="none" stroke="#000" stroke-width="1.2"/>
<path d="M463.1,188.0 C467.8,193.4 460.1,193.3 455.4,187.9 C456.7,191.9 444.0,184.1 442.5,180.0 C439.9,180.7 428.1,168.9 430.6,167.9 C425.2,165.1 419.9,154.8 425.2,157.5 C419.6,152.4 423.2,148.4 428.8,153.5 C425.6,148.5 436.4,152.7 439.8,157.8 C440.5,155.2 453.5,165.7 453.0,168.4 C457.2,169.5 466.3,181.3 462.2,180.3 C468.0,184.5 468.9,192.2 463.1,188.0Z" fill="#fff" stroke="#888" stroke-width="1.0"/><path d="M456.1,181.7L462.5,187.5M451.3,181.7L455.0,187.3M443.3,176.7L442.6,179.7M435.8,169.2L431.1,168.1M432.4,162.6L425.8,157.9M434.7,160.1L429.4,154.1M441.6,162.8L439.9,158.2M449.8,169.5L452.7,168.5M455.5,176.9L461.6,180.0" stroke="#888" stroke-width="1.0" fill="none"/>
<path d="M422.7,152 C424,168 438,186 458.2,188.9" fill="none" stroke="#000" stroke-width="1.2"/>
<rect x="434" y="175" width="3" height="3" fill="#000" transform="rotate(40 435 176)"/>
<path d="M459,150.5 C453,150 450,155 451,160 C452,165 457,167.5 461,165 C463,163.5 463,161 462,159.5" fill="none" stroke="#000" stroke-width="1.2"/>
<path d="M460.5,157.5 l2,3.5 l1.5,-3.8z" fill="#000"/><path d="M461.5,154.5 L467,149" stroke="#000" stroke-width="1.1"/>
<path d="M448.9,190.9 L448.2,209 L463.6,222.4 L463.6,207 Z" fill="#fff" stroke="#000" stroke-width="1.6" stroke-linejoin="round"/>
<path d="M448.9,190.9 L463.6,222.4 M452,197 L458,214 M448.2,209 L463.6,207" stroke="#000" stroke-width="0.9"/>
<rect x="452" y="199" width="5" height="4" fill="#000" transform="rotate(60 454 201)"/><rect x="456" y="210" width="5" height="4" fill="#000" transform="rotate(60 458 212)"/>
<circle cx="449.2" cy="191.5" r="1.4" fill="#fff" stroke="#000"/>
<path d="M434.5,208.5 C429,207.5 426.5,213 427,218 C427.5,223.5 431,226 434.5,224.5 C436.5,223.5 437,221 436.5,219.5" fill="none" stroke="#000" stroke-width="1.2"/>
<path d="M434.5,218 l2,3.5 l1.6,-3.6z" fill="#000"/>
<path d="M437,213 L448.5,209" stroke="#000" stroke-width="1"/>
<path d="M462.3,171.5 L478.3,156.1 H496.4 M464.9,207 L478.3,211.7 H496.4" fill="none" stroke="#000" stroke-width="1.1"/>
<path d="M90.5,554.0 C91.5,550.0 95.9,547.6 96.9,551.6 C97.9,547.6 102.3,545.8 103.3,549.8 C104.3,545.8 108.8,544.7 109.8,548.7 C110.8,544.7 115.2,544.1 116.2,548.1 C117.2,544.1 121.6,544.1 122.6,548.1 C123.6,544.1 128.0,544.7 129.0,548.7 C130.0,544.7 134.5,545.8 135.5,549.8 C136.5,545.8 140.9,547.6 141.9,551.6 C142.9,547.6 147.3,550.0 148.3,554.0" fill="#fff" stroke="#888" stroke-width="1.1"/>
<path d="M148.3,557.0 C147.3,554.5 142.9,553.3 141.9,555.8 C140.9,553.3 136.5,552.4 135.5,554.9 C134.5,552.4 130.0,551.8 129.0,554.3 C128.0,551.8 123.6,551.5 122.6,554.0 C121.6,551.5 117.2,551.5 116.2,554.0 C115.2,551.5 110.8,551.8 109.8,554.3 C108.8,551.8 104.3,552.4 103.3,554.9 C102.3,552.4 97.9,553.3 96.9,555.8 C95.9,553.3 91.5,554.5 90.5,557.0" fill="none" stroke="#aaa" stroke-width="0.9"/>
<path d="M90.7,553.5 C96,560 105,566 118.3,567.1 C130,566 138,562 142.3,558.2" fill="none" stroke="#000" stroke-width="1.4"/>
<path d="M103,557 l3,5 M112,557 l1,7 M124,557 l-1,7 M133,557 l-3,5" stroke="#333" stroke-width="0.9"/>
<rect x="116.8" y="563.3" width="3.2" height="3.6" fill="#000"/>
<path d="M94.5,592.6 L119.4,582.2 L144.3,592.6 L119.4,602.5 Z" fill="#fff" stroke="#000" stroke-width="1.6" stroke-linejoin="round"/>
<rect x="91.8" y="589" width="6" height="7.2" rx="2.5" fill="#fff" stroke="#000" stroke-width="1.5"/>
<rect x="141.2" y="589" width="6" height="7.2" rx="2.5" fill="#fff" stroke="#000" stroke-width="1.5"/>
<path d="M97.5,592.6 L112.6,586 M97.5,592.6 L112.6,599 M141.3,592.6 L126.1,586 M141.3,592.6 L126.1,599 M101,590 H137 M101,595 H137 M112.6,586 L119.4,582.2 L126.1,586 M112.6,599 L119.4,602.5 L126.1,599" stroke="#000" stroke-width="0.8" fill="none"/>
<rect x="110.8" y="587" width="3.6" height="11" fill="#000"/><rect x="124.3" y="587" width="3.6" height="11" fill="#000"/>
<rect x="117.9" y="602" width="3" height="3.6" fill="#000"/>
<rect x="663" y="114.5" width="5.4" height="4" fill="#bbb" stroke="#555" stroke-width="0.7"/>
<rect x="856.3" y="109.8" width="5" height="8.3" fill="#fff" stroke="#000" stroke-width="1.8"/>
<path d="M855.3,120.4 H862.1" stroke="#444" stroke-width="1.1"/><path d="M857,121.6 H860.4 L859.4,124.5 L858.7,126.5 L858,124.5 Z" fill="#000"/><rect x="856.3" y="115.8" width="5" height="2.5" fill="#000"/>
<path d="M858.7,126 V345" stroke="#333" stroke-width="1.1"/>
<path d="M663.5,119 L665.7,124 L667.9,119 Z" fill="#000"/>
<g transform="translate(0,0)"><path d="M112,362 C95,356 75,350 55,344" stroke="#000" stroke-width="1.3" fill="none"/>
<path d="M114,366 C95,360 78,356 60,350" stroke="#000" stroke-width="1.3" fill="none"/>
<path d="M116,358 C98,352 80,346 62,340" stroke="#000" stroke-width="1.0" fill="none"/>
<path d="M58,316 C70,335 90,352 113,361" stroke="#000" stroke-width="2.6" fill="none"/>
<path d="M58,316 C70,335 90,352 113,361" stroke="#999" stroke-width="0.8" fill="none"/>
<path d="M71,316 C76,335 95,352 116,360" stroke="#000" stroke-width="1.4" fill="none"/>
<path d="M44,378.5 C65,366 85,362 110,363" stroke="#000" stroke-width="2.6" fill="none"/>
<path d="M44,378.5 C65,366 85,362 110,363" stroke="#999" stroke-width="0.8" fill="none"/>
<path d="M90,385 C100,387 108,380 113,374" stroke="#000" stroke-width="1.6" fill="none"/>
<path d="M97,407 C100,395 106,382 113,375" stroke="#000" stroke-width="2.6" fill="none"/>
<path d="M97,407 C100,395 106,382 113,375" stroke="#999" stroke-width="0.8" fill="none"/>
<path d="M95,336 C100,345 105,352 112,358" stroke="#000" stroke-width="1.2" fill="none"/>
<path d="M110,344 C112,350 113,355 115,360" stroke="#000" stroke-width="1.2" fill="none"/>
<path d="M158,331 C170,340 180,345 190,347" stroke="#000" stroke-width="2.6" fill="none"/>
<path d="M158,331 C170,340 180,345 190,347" stroke="#999" stroke-width="0.8" fill="none"/>
<path d="M186,326 C187,335 189,342 191,346" stroke="#000" stroke-width="1.6" fill="none"/>
<path d="M169,386 C172,372 178,362 186,356" stroke="#000" stroke-width="2.6" fill="none"/>
<path d="M169,386 C172,372 178,362 186,356" stroke="#999" stroke-width="0.8" fill="none"/>
<path d="M160,372 C168,372 176,365 182,358" stroke="#000" stroke-width="1.4" fill="none"/>
<path d="M39.3,318.2 C38.5,316.1 40.9,312.0 42.3,313.0 C41.5,311.0 44.3,307.5 45.7,308.6 C45.0,306.6 48.2,303.7 49.7,304.9 C49.0,303.0 52.6,300.6 54.1,301.8 C53.5,300.0 57.4,298.2 59.0,299.5 C58.5,297.8 62.8,296.5 64.4,297.9 C63.9,296.2 68.6,295.5 70.3,297.0 L57.7,315.0 Z" fill="#fff" stroke="#808080" stroke-width="1.0"/><path d="M39.3,318.2 Q49.3,317.8 57.7,315.0 L70.3,297.0" fill="none" stroke="#333" stroke-width="1.0"/><path d="M42.3,313.0L44.6,313.3M45.7,308.6L47.5,309.6M49.7,304.9L50.9,306.4M54.1,301.8L54.6,303.8M59.0,299.5L58.8,301.8M64.4,297.9L63.4,300.5" stroke="#808080" stroke-width="0.8"/>
<path d="M26.7,366.7 C25.1,368.3 25.5,373.0 27.2,372.6 C25.6,374.1 26.6,378.5 28.4,378.1 C26.9,379.6 28.4,383.7 30.3,383.2 C28.9,384.6 31.1,388.3 33.0,387.8 C31.7,389.2 34.4,392.6 36.4,392.1 C35.2,393.4 38.5,396.4 40.6,395.8 C39.4,397.1 43.4,399.8 45.5,399.2 L42.8,379.4 Z" fill="#fff" stroke="#808080" stroke-width="1.0"/><path d="M26.7,366.7 Q36.0,372.3 42.8,379.4 L45.5,399.2" fill="none" stroke="#333" stroke-width="1.0"/><path d="M27.2,372.6L29.5,373.6M28.4,378.1L30.5,378.3M30.3,383.2L32.2,382.6M33.0,387.8L34.5,386.6M36.4,392.1L37.4,390.2M40.6,395.8L40.9,393.4" stroke="#808080" stroke-width="0.8"/>
<path d="M83.9,341.5 C83.4,340.1 84.8,336.9 85.7,337.5 C85.3,336.2 87.2,333.8 88.1,334.4 C87.7,333.2 90.2,331.6 91.2,332.4 C90.9,331.3 93.9,330.4 94.9,331.3 C94.7,330.3 98.2,330.2 99.3,331.2 L94.6,347.3 Z" fill="#fff" stroke="#808080" stroke-width="1.0"/><path d="M83.9,341.5 Q89.7,345.0 94.6,347.3 L99.3,331.2" fill="none" stroke="#333" stroke-width="1.0"/><path d="M85.7,337.5L87.0,338.9M88.1,334.4L89.1,336.4M91.2,332.4L91.7,334.6M94.9,331.3L94.9,333.7" stroke="#808080" stroke-width="0.8"/>
<path d="M151.5,337.5 C150.3,335.7 151.6,331.2 153.2,331.9 C152.0,330.2 153.9,326.2 155.5,326.9 C154.4,325.2 156.7,321.7 158.4,322.5 C157.4,320.8 160.2,317.7 161.9,318.6 C161.0,317.0 164.3,314.4 166.1,315.3 C165.2,313.8 169.0,311.6 170.9,312.6 C170.0,311.1 174.3,309.4 176.2,310.4 L170.0,329.2 Z" fill="#fff" stroke="#808080" stroke-width="1.0"/><path d="M151.5,337.5 Q161.8,334.3 170.0,329.2 L176.2,310.4" fill="none" stroke="#333" stroke-width="1.0"/><path d="M153.2,331.9L155.7,331.5M155.5,326.9L157.7,327.3M158.4,322.5L160.1,323.5M161.9,318.6L163.1,320.2M166.1,315.3L166.7,317.4M170.9,312.6L170.7,315.1" stroke="#808080" stroke-width="0.8"/>
<path d="M144.8,364.8 C151.2,365.3 149.6,375.1 143.4,373.2 C148.0,377.8 140.7,384.2 137.1,378.7 C137.8,385.2 128.2,385.2 128.9,378.7 C125.3,384.2 118.0,377.8 122.6,373.2 C116.4,375.1 114.8,365.3 121.2,364.8 C115.3,362.2 120.1,353.6 125.3,357.5 C122.5,351.5 131.5,348.2 133.0,354.6 C134.5,348.2 143.5,351.5 140.7,357.5 C145.9,353.6 150.7,362.2 144.8,364.8Z" fill="#fff" stroke="#808080" stroke-width="1.1"/><path d="M136.0,366.5L144.8,364.8M135.6,368.6L143.4,373.2M134.0,369.9L137.1,378.7M132.0,369.9L128.9,378.7M130.4,368.6L122.6,373.2M130.0,366.5L121.2,364.8M131.1,364.6L125.3,357.5M133.0,363.9L133.0,354.6M134.9,364.6L140.7,357.5" stroke="#000" stroke-width="1.1" fill="none"/>
<path d="M220.7,344.7 C227.3,345.2 225.6,355.6 219.2,353.6 C224.0,358.5 216.4,365.3 212.7,359.4 C213.5,366.4 203.5,366.4 204.3,359.4 C200.6,365.3 193.0,358.5 197.8,353.6 C191.4,355.6 189.7,345.2 196.3,344.7 C190.2,341.9 195.2,332.7 200.5,336.9 C197.6,330.6 206.9,326.9 208.5,333.8 C210.1,326.9 219.4,330.6 216.5,336.9 C221.8,332.7 226.8,341.9 220.7,344.7Z" fill="#fff" stroke="#808080" stroke-width="1.1"/><path d="M211.6,346.4L220.7,344.7M211.2,348.6L219.2,353.6M209.6,350.1L212.7,359.4M207.4,350.1L204.3,359.4M205.8,348.6L197.8,353.6M205.4,346.4L196.3,344.7M206.5,344.5L200.5,336.9M208.5,343.7L208.5,333.8M210.5,344.5L216.5,336.9" stroke="#000" stroke-width="1.1" fill="none"/>
<path d="M51.6,345.1 C54.9,347.3 51.6,355.4 48.4,353.1 C50.0,357.5 43.7,361.5 42.1,357.1 C41.5,361.9 34.5,360.3 35.2,355.6 C32.6,358.9 27.7,352.3 30.3,349.0 C26.7,349.7 25.7,340.6 29.4,339.9 C26.1,337.7 29.4,329.6 32.6,331.9 C31.0,327.5 37.3,323.5 38.9,327.9 C39.5,323.1 46.5,324.7 45.8,329.4 C48.4,326.1 53.3,332.7 50.7,336.0 C54.3,335.3 55.3,344.4 51.6,345.1Z" fill="#fff" stroke="#000" stroke-width="1.1"/><path d="M47.5,344.1L51.4,345.0M45.5,349.2L48.2,352.9M41.5,351.8L42.0,356.8M37.1,350.8L35.3,355.3M34.1,346.6L30.6,348.8M33.5,340.9L29.6,340.0M35.5,335.8L32.8,332.1M39.5,333.2L39.0,328.2M43.9,334.2L45.7,329.7M46.9,338.4L50.4,336.2" stroke="#000" stroke-width="1.1" fill="none"/>
<path d="M110.5,410.0 C115.0,411.5 111.4,418.2 107.0,416.7 C109.5,420.0 101.6,423.7 99.1,420.4 C98.7,424.3 89.6,423.6 90.0,419.8 C86.9,422.7 79.9,417.9 83.1,415.0 C78.4,415.9 76.4,408.8 81.1,408.0 C76.6,406.5 80.2,399.8 84.6,401.3 C82.1,398.0 90.0,394.3 92.5,397.6 C92.9,393.7 102.0,394.4 101.6,398.2 C104.7,395.3 111.7,400.1 108.5,403.0 C113.2,402.1 115.2,409.2 110.5,410.0Z" fill="#fff" stroke="#000" stroke-width="1.1"/><path d="M105.1,409.6L110.2,410.0M102.9,413.9L106.7,416.5M97.9,416.2L99.1,420.2M92.1,415.8L90.2,419.6M87.8,412.8L83.4,414.9M86.5,408.4L81.4,408.0M88.7,404.1L84.9,401.5M93.7,401.8L92.5,397.8M99.5,402.2L101.4,398.4M103.8,405.2L108.2,403.1" stroke="#000" stroke-width="1.1" fill="none"/>
<path d="M182.3,389.4 C186.2,391.4 181.3,397.3 177.4,395.3 C179.1,398.7 170.8,401.2 169.2,397.8 C168.0,401.4 159.3,399.5 160.6,396.0 C157.0,398.3 151.4,392.9 155.0,390.6 C150.3,390.8 149.9,383.7 154.5,383.6 C150.6,381.6 155.5,375.7 159.4,377.7 C157.7,374.3 166.0,371.8 167.6,375.2 C168.8,371.6 177.5,373.5 176.2,377.0 C179.8,374.7 185.4,380.1 181.8,382.4 C186.5,382.2 186.9,389.3 182.3,389.4Z" fill="#fff" stroke="#000" stroke-width="1.1"/><path d="M177.2,388.4L181.9,389.4M174.1,392.1L177.2,395.1M168.9,393.6L169.1,397.5M163.5,392.5L160.8,395.8M159.9,389.1L155.3,390.5M159.6,384.6L154.9,383.6M162.7,380.9L159.6,377.9M167.9,379.4L167.7,375.5M173.3,380.5L176.0,377.2M176.9,383.9L181.5,382.5" stroke="#000" stroke-width="1.1" fill="none"/>
<path d="M94,405h4v4h-4z M166.5,383h4v4h-4z" fill="#000"/>
<g transform="rotate(18 62 347)"><rect x="46" y="342" width="34" height="10" rx="2" fill="url(#dk)" stroke="#000" stroke-width="1.2"/><rect x="80" y="343.5" width="12" height="7" fill="#fff" stroke="#000" stroke-width="1"/><rect x="40" y="344" width="6" height="6" fill="#000"/></g>
<polygon points="49.3,348.0 52.3,341.1 59.5,339.6 65.1,335.3 63.4,340.4 60.9,346.0 55.2,348.2" fill="url(#xh)" stroke="#000" stroke-width="1.5" stroke-linejoin="round"/><path d="M49.3,348.0L64.3,337.8" stroke="#000" stroke-width="1"/><circle cx="55.8" cy="343.2" r="1.8" fill="#000"/>
<polygon points="57.6,314.2 64.2,309.2 72.8,310.0 81.0,308.1 76.7,311.9 71.2,315.9 63.9,316.1" fill="url(#xh)" stroke="#000" stroke-width="1.5" stroke-linejoin="round"/><path d="M57.6,314.2L78.8,310.0" stroke="#000" stroke-width="1"/><circle cx="67.0" cy="312.0" r="1.8" fill="#000"/>
<polygon points="109.3,336.5 120.7,342.2 110.7,346.5 99.9,345.1" fill="url(#xl)" stroke="#000" stroke-width="1.6" stroke-linejoin="round"/><path d="M109.3,336.5L105.8,345.1M109.3,336.5L115.0,343.8M99.9,345.1L105.8,345.1L115.0,343.8L120.7,342.2" stroke="#000" stroke-width="0.9" fill="none"/><polygon points="107.0,342.4 109.7,339.5 113.2,341.6" fill="#fff"/>
<polygon points="78.7,384.6 88.8,377.5 89.3,387.4 83.9,395.8" fill="url(#xl)" stroke="#000" stroke-width="1.6" stroke-linejoin="round"/><path d="M78.7,384.6L86.1,390.9M78.7,384.6L88.3,382.8M83.9,395.8L86.1,390.9L88.3,382.8L88.8,377.5" stroke="#000" stroke-width="0.9" fill="none"/><polygon points="83.8,388.9 81.9,385.4 85.3,383.4" fill="#fff"/>
<polygon points="127.3,393.0 116.8,385.8 127.3,383.0 137.8,385.8" fill="url(#xl)" stroke="#000" stroke-width="1.6" stroke-linejoin="round"/><path d="M127.3,393.0L131.9,385.0M127.3,393.0L122.7,385.0M137.8,385.8L131.9,385.0L122.7,385.0L116.8,385.8" stroke="#000" stroke-width="0.9" fill="none"/><polygon points="130.4,387.5 127.3,390.0 124.1,387.5" fill="#fff"/>
<polygon points="44.5,372.3 47.1,358.8 53.5,356.7 54.9,363.3" fill="url(#xl)" stroke="#000" stroke-width="1.6" stroke-linejoin="round"/><path d="M44.5,372.3L53.4,360.8M44.5,372.3L50.0,358.8M54.9,363.3L53.4,360.8L50.0,358.8L47.1,358.8" stroke="#000" stroke-width="0.9" fill="none"/><polygon points="50.6,364.4 47.2,367.6 48.3,363.0" fill="#fff"/>
<polygon points="185.9,316.0 197.0,322.3 186.7,326.0 176.0,324.1" fill="url(#xl)" stroke="#000" stroke-width="1.6" stroke-linejoin="round"/><path d="M185.9,316.0L182.0,324.4M185.9,316.0L191.2,323.6M176.0,324.1L182.0,324.4L191.2,323.6L197.0,322.3" stroke="#000" stroke-width="0.9" fill="none"/><polygon points="183.2,321.8 186.1,319.0 189.5,321.2" fill="#fff"/>
<polygon points="201.5,373.0 191.5,366.5 201.5,364.0 211.5,366.5" fill="url(#xl)" stroke="#000" stroke-width="1.6" stroke-linejoin="round"/><path d="M201.5,373.0L205.9,365.8M201.5,373.0L197.1,365.8M211.5,366.5L205.9,365.8L197.1,365.8L191.5,366.5" stroke="#000" stroke-width="0.9" fill="none"/><polygon points="204.5,368.1 201.5,370.3 198.5,368.1" fill="#fff"/>
<path d="M138,362 L184,352 M139,367 L185,357" stroke="#000" stroke-width="1.3" fill="none"/>
<path d="M133,364.5 L150,362" stroke="#000" stroke-width="4"/>
<polygon points="153.1,363.1 161.9,354.5 162.9,364.9 158.4,374.2" fill="url(#xl)" stroke="#000" stroke-width="1.6" stroke-linejoin="round"/><path d="M153.1,363.1L160.2,368.9M153.1,363.1L161.7,360.2M158.4,374.2L160.2,368.9L161.7,360.2L161.9,354.5" stroke="#000" stroke-width="0.9" fill="none"/><polygon points="158.0,367.0 156.0,363.7 159.0,361.1" fill="#fff"/>
<ellipse cx="124.5" cy="369" rx="11.5" ry="8.5" fill="url(#dk)" stroke="#000" stroke-width="1.2"/>
<ellipse cx="111.5" cy="370.5" rx="5" ry="7.5" fill="#fff" stroke="#000" stroke-width="1.8"/>
<path d="M110.5,365.5 v9 l2,1 M113,367 v5" stroke="#000" stroke-width="1.2" fill="none"/>
<ellipse cx="198" cy="350.5" rx="12" ry="9" fill="url(#dk)" stroke="#000" stroke-width="1.2"/>
<ellipse cx="186.5" cy="350.5" rx="5" ry="7.5" fill="#fff" stroke="#000" stroke-width="1.8"/>
<path d="M185.5,345.5 v9 l2,1 M188,347 v5" stroke="#000" stroke-width="1.2" fill="none"/>
<path d="M210,346 L222,342.5 L222,348.5 Z" fill="#111"/>
<rect x="221.6" y="342.3" width="11.6" height="6.5" fill="#fff" stroke="#000" stroke-width="1"/>
<rect x="224.5" y="342.3" width="4" height="6.5" fill="#000"/><g transform="translate(463,0) scale(-1,1)"><path d="M112,362 C95,356 75,350 55,344" stroke="#000" stroke-width="1.3" fill="none"/>
<path d="M114,366 C95,360 78,356 60,350" stroke="#000" stroke-width="1.3" fill="none"/>
<path d="M116,358 C98,352 80,346 62,340" stroke="#000" stroke-width="1.0" fill="none"/>
<path d="M58,316 C70,335 90,352 113,361" stroke="#000" stroke-width="2.6" fill="none"/>
<path d="M58,316 C70,335 90,352 113,361" stroke="#999" stroke-width="0.8" fill="none"/>
<path d="M71,316 C76,335 95,352 116,360" stroke="#000" stroke-width="1.4" fill="none"/>
<path d="M44,378.5 C65,366 85,362 110,363" stroke="#000" stroke-width="2.6" fill="none"/>
<path d="M44,378.5 C65,366 85,362 110,363" stroke="#999" stroke-width="0.8" fill="none"/>
<path d="M90,385 C100,387 108,380 113,374" stroke="#000" stroke-width="1.6" fill="none"/>
<path d="M97,407 C100,395 106,382 113,375" stroke="#000" stroke-width="2.6" fill="none"/>
<path d="M97,407 C100,395 106,382 113,375" stroke="#999" stroke-width="0.8" fill="none"/>
<path d="M95,336 C100,345 105,352 112,358" stroke="#000" stroke-width="1.2" fill="none"/>
<path d="M110,344 C112,350 113,355 115,360" stroke="#000" stroke-width="1.2" fill="none"/>
<path d="M158,331 C170,340 180,345 190,347" stroke="#000" stroke-width="2.6" fill="none"/>
<path d="M158,331 C170,340 180,345 190,347" stroke="#999" stroke-width="0.8" fill="none"/>
<path d="M186,326 C187,335 189,342 191,346" stroke="#000" stroke-width="1.6" fill="none"/>
<path d="M169,386 C172,372 178,362 186,356" stroke="#000" stroke-width="2.6" fill="none"/>
<path d="M169,386 C172,372 178,362 186,356" stroke="#999" stroke-width="0.8" fill="none"/>
<path d="M160,372 C168,372 176,365 182,358" stroke="#000" stroke-width="1.4" fill="none"/>
<path d="M39.3,318.2 C38.5,316.1 40.9,312.0 42.3,313.0 C41.5,311.0 44.3,307.5 45.7,308.6 C45.0,306.6 48.2,303.7 49.7,304.9 C49.0,303.0 52.6,300.6 54.1,301.8 C53.5,300.0 57.4,298.2 59.0,299.5 C58.5,297.8 62.8,296.5 64.4,297.9 C63.9,296.2 68.6,295.5 70.3,297.0 L57.7,315.0 Z" fill="#fff" stroke="#808080" stroke-width="1.0"/><path d="M39.3,318.2 Q49.3,317.8 57.7,315.0 L70.3,297.0" fill="none" stroke="#333" stroke-width="1.0"/><path d="M42.3,313.0L44.6,313.3M45.7,308.6L47.5,309.6M49.7,304.9L50.9,306.4M54.1,301.8L54.6,303.8M59.0,299.5L58.8,301.8M64.4,297.9L63.4,300.5" stroke="#808080" stroke-width="0.8"/>
<path d="M26.7,366.7 C25.1,368.3 25.5,373.0 27.2,372.6 C25.6,374.1 26.6,378.5 28.4,378.1 C26.9,379.6 28.4,383.7 30.3,383.2 C28.9,384.6 31.1,388.3 33.0,387.8 C31.7,389.2 34.4,392.6 36.4,392.1 C35.2,393.4 38.5,396.4 40.6,395.8 C39.4,397.1 43.4,399.8 45.5,399.2 L42.8,379.4 Z" fill="#fff" stroke="#808080" stroke-width="1.0"/><path d="M26.7,366.7 Q36.0,372.3 42.8,379.4 L45.5,399.2" fill="none" stroke="#333" stroke-width="1.0"/><path d="M27.2,372.6L29.5,373.6M28.4,378.1L30.5,378.3M30.3,383.2L32.2,382.6M33.0,387.8L34.5,386.6M36.4,392.1L37.4,390.2M40.6,395.8L40.9,393.4" stroke="#808080" stroke-width="0.8"/>
<path d="M83.9,341.5 C83.4,340.1 84.8,336.9 85.7,337.5 C85.3,336.2 87.2,333.8 88.1,334.4 C87.7,333.2 90.2,331.6 91.2,332.4 C90.9,331.3 93.9,330.4 94.9,331.3 C94.7,330.3 98.2,330.2 99.3,331.2 L94.6,347.3 Z" fill="#fff" stroke="#808080" stroke-width="1.0"/><path d="M83.9,341.5 Q89.7,345.0 94.6,347.3 L99.3,331.2" fill="none" stroke="#333" stroke-width="1.0"/><path d="M85.7,337.5L87.0,338.9M88.1,334.4L89.1,336.4M91.2,332.4L91.7,334.6M94.9,331.3L94.9,333.7" stroke="#808080" stroke-width="0.8"/>
<path d="M151.5,337.5 C150.3,335.7 151.6,331.2 153.2,331.9 C152.0,330.2 153.9,326.2 155.5,326.9 C154.4,325.2 156.7,321.7 158.4,322.5 C157.4,320.8 160.2,317.7 161.9,318.6 C161.0,317.0 164.3,314.4 166.1,315.3 C165.2,313.8 169.0,311.6 170.9,312.6 C170.0,311.1 174.3,309.4 176.2,310.4 L170.0,329.2 Z" fill="#fff" stroke="#808080" stroke-width="1.0"/><path d="M151.5,337.5 Q161.8,334.3 170.0,329.2 L176.2,310.4" fill="none" stroke="#333" stroke-width="1.0"/><path d="M153.2,331.9L155.7,331.5M155.5,326.9L157.7,327.3M158.4,322.5L160.1,323.5M161.9,318.6L163.1,320.2M166.1,315.3L166.7,317.4M170.9,312.6L170.7,315.1" stroke="#808080" stroke-width="0.8"/>
<path d="M144.8,364.8 C151.2,365.3 149.6,375.1 143.4,373.2 C148.0,377.8 140.7,384.2 137.1,378.7 C137.8,385.2 128.2,385.2 128.9,378.7 C125.3,384.2 118.0,377.8 122.6,373.2 C116.4,375.1 114.8,365.3 121.2,364.8 C115.3,362.2 120.1,353.6 125.3,357.5 C122.5,351.5 131.5,348.2 133.0,354.6 C134.5,348.2 143.5,351.5 140.7,357.5 C145.9,353.6 150.7,362.2 144.8,364.8Z" fill="#fff" stroke="#808080" stroke-width="1.1"/><path d="M136.0,366.5L144.8,364.8M135.6,368.6L143.4,373.2M134.0,369.9L137.1,378.7M132.0,369.9L128.9,378.7M130.4,368.6L122.6,373.2M130.0,366.5L121.2,364.8M131.1,364.6L125.3,357.5M133.0,363.9L133.0,354.6M134.9,364.6L140.7,357.5" stroke="#000" stroke-width="1.1" fill="none"/>
<path d="M220.7,344.7 C227.3,345.2 225.6,355.6 219.2,353.6 C224.0,358.5 216.4,365.3 212.7,359.4 C213.5,366.4 203.5,366.4 204.3,359.4 C200.6,365.3 193.0,358.5 197.8,353.6 C191.4,355.6 189.7,345.2 196.3,344.7 C190.2,341.9 195.2,332.7 200.5,336.9 C197.6,330.6 206.9,326.9 208.5,333.8 C210.1,326.9 219.4,330.6 216.5,336.9 C221.8,332.7 226.8,341.9 220.7,344.7Z" fill="#fff" stroke="#808080" stroke-width="1.1"/><path d="M211.6,346.4L220.7,344.7M211.2,348.6L219.2,353.6M209.6,350.1L212.7,359.4M207.4,350.1L204.3,359.4M205.8,348.6L197.8,353.6M205.4,346.4L196.3,344.7M206.5,344.5L200.5,336.9M208.5,343.7L208.5,333.8M210.5,344.5L216.5,336.9" stroke="#000" stroke-width="1.1" fill="none"/>
<path d="M51.6,345.1 C54.9,347.3 51.6,355.4 48.4,353.1 C50.0,357.5 43.7,361.5 42.1,357.1 C41.5,361.9 34.5,360.3 35.2,355.6 C32.6,358.9 27.7,352.3 30.3,349.0 C26.7,349.7 25.7,340.6 29.4,339.9 C26.1,337.7 29.4,329.6 32.6,331.9 C31.0,327.5 37.3,323.5 38.9,327.9 C39.5,323.1 46.5,324.7 45.8,329.4 C48.4,326.1 53.3,332.7 50.7,336.0 C54.3,335.3 55.3,344.4 51.6,345.1Z" fill="#fff" stroke="#000" stroke-width="1.1"/><path d="M47.5,344.1L51.4,345.0M45.5,349.2L48.2,352.9M41.5,351.8L42.0,356.8M37.1,350.8L35.3,355.3M34.1,346.6L30.6,348.8M33.5,340.9L29.6,340.0M35.5,335.8L32.8,332.1M39.5,333.2L39.0,328.2M43.9,334.2L45.7,329.7M46.9,338.4L50.4,336.2" stroke="#000" stroke-width="1.1" fill="none"/>
<path d="M110.5,410.0 C115.0,411.5 111.4,418.2 107.0,416.7 C109.5,420.0 101.6,423.7 99.1,420.4 C98.7,424.3 89.6,423.6 90.0,419.8 C86.9,422.7 79.9,417.9 83.1,415.0 C78.4,415.9 76.4,408.8 81.1,408.0 C76.6,406.5 80.2,399.8 84.6,401.3 C82.1,398.0 90.0,394.3 92.5,397.6 C92.9,393.7 102.0,394.4 101.6,398.2 C104.7,395.3 111.7,400.1 108.5,403.0 C113.2,402.1 115.2,409.2 110.5,410.0Z" fill="#fff" stroke="#000" stroke-width="1.1"/><path d="M105.1,409.6L110.2,410.0M102.9,413.9L106.7,416.5M97.9,416.2L99.1,420.2M92.1,415.8L90.2,419.6M87.8,412.8L83.4,414.9M86.5,408.4L81.4,408.0M88.7,404.1L84.9,401.5M93.7,401.8L92.5,397.8M99.5,402.2L101.4,398.4M103.8,405.2L108.2,403.1" stroke="#000" stroke-width="1.1" fill="none"/>
<path d="M182.3,389.4 C186.2,391.4 181.3,397.3 177.4,395.3 C179.1,398.7 170.8,401.2 169.2,397.8 C168.0,401.4 159.3,399.5 160.6,396.0 C157.0,398.3 151.4,392.9 155.0,390.6 C150.3,390.8 149.9,383.7 154.5,383.6 C150.6,381.6 155.5,375.7 159.4,377.7 C157.7,374.3 166.0,371.8 167.6,375.2 C168.8,371.6 177.5,373.5 176.2,377.0 C179.8,374.7 185.4,380.1 181.8,382.4 C186.5,382.2 186.9,389.3 182.3,389.4Z" fill="#fff" stroke="#000" stroke-width="1.1"/><path d="M177.2,388.4L181.9,389.4M174.1,392.1L177.2,395.1M168.9,393.6L169.1,397.5M163.5,392.5L160.8,395.8M159.9,389.1L155.3,390.5M159.6,384.6L154.9,383.6M162.7,380.9L159.6,377.9M167.9,379.4L167.7,375.5M173.3,380.5L176.0,377.2M176.9,383.9L181.5,382.5" stroke="#000" stroke-width="1.1" fill="none"/>
<path d="M94,405h4v4h-4z M166.5,383h4v4h-4z" fill="#000"/>
<g transform="rotate(18 62 347)"><rect x="46" y="342" width="34" height="10" rx="2" fill="url(#dk)" stroke="#000" stroke-width="1.2"/><rect x="80" y="343.5" width="12" height="7" fill="#fff" stroke="#000" stroke-width="1"/><rect x="40" y="344" width="6" height="6" fill="#000"/></g>
<polygon points="49.3,348.0 52.3,341.1 59.5,339.6 65.1,335.3 63.4,340.4 60.9,346.0 55.2,348.2" fill="url(#xh)" stroke="#000" stroke-width="1.5" stroke-linejoin="round"/><path d="M49.3,348.0L64.3,337.8" stroke="#000" stroke-width="1"/><circle cx="55.8" cy="343.2" r="1.8" fill="#000"/>
<polygon points="57.6,314.2 64.2,309.2 72.8,310.0 81.0,308.1 76.7,311.9 71.2,315.9 63.9,316.1" fill="url(#xh)" stroke="#000" stroke-width="1.5" stroke-linejoin="round"/><path d="M57.6,314.2L78.8,310.0" stroke="#000" stroke-width="1"/><circle cx="67.0" cy="312.0" r="1.8" fill="#000"/>
<polygon points="109.3,336.5 120.7,342.2 110.7,346.5 99.9,345.1" fill="url(#xl)" stroke="#000" stroke-width="1.6" stroke-linejoin="round"/><path d="M109.3,336.5L105.8,345.1M109.3,336.5L115.0,343.8M99.9,345.1L105.8,345.1L115.0,343.8L120.7,342.2" stroke="#000" stroke-width="0.9" fill="none"/><polygon points="107.0,342.4 109.7,339.5 113.2,341.6" fill="#fff"/>
<polygon points="78.7,384.6 88.8,377.5 89.3,387.4 83.9,395.8" fill="url(#xl)" stroke="#000" stroke-width="1.6" stroke-linejoin="round"/><path d="M78.7,384.6L86.1,390.9M78.7,384.6L88.3,382.8M83.9,395.8L86.1,390.9L88.3,382.8L88.8,377.5" stroke="#000" stroke-width="0.9" fill="none"/><polygon points="83.8,388.9 81.9,385.4 85.3,383.4" fill="#fff"/>
<polygon points="127.3,393.0 116.8,385.8 127.3,383.0 137.8,385.8" fill="url(#xl)" stroke="#000" stroke-width="1.6" stroke-linejoin="round"/><path d="M127.3,393.0L131.9,385.0M127.3,393.0L122.7,385.0M137.8,385.8L131.9,385.0L122.7,385.0L116.8,385.8" stroke="#000" stroke-width="0.9" fill="none"/><polygon points="130.4,387.5 127.3,390.0 124.1,387.5" fill="#fff"/>
<polygon points="44.5,372.3 47.1,358.8 53.5,356.7 54.9,363.3" fill="url(#xl)" stroke="#000" stroke-width="1.6" stroke-linejoin="round"/><path d="M44.5,372.3L53.4,360.8M44.5,372.3L50.0,358.8M54.9,363.3L53.4,360.8L50.0,358.8L47.1,358.8" stroke="#000" stroke-width="0.9" fill="none"/><polygon points="50.6,364.4 47.2,367.6 48.3,363.0" fill="#fff"/>
<polygon points="185.9,316.0 197.0,322.3 186.7,326.0 176.0,324.1" fill="url(#xl)" stroke="#000" stroke-width="1.6" stroke-linejoin="round"/><path d="M185.9,316.0L182.0,324.4M185.9,316.0L191.2,323.6M176.0,324.1L182.0,324.4L191.2,323.6L197.0,322.3" stroke="#000" stroke-width="0.9" fill="none"/><polygon points="183.2,321.8 186.1,319.0 189.5,321.2" fill="#fff"/>
<polygon points="201.5,373.0 191.5,366.5 201.5,364.0 211.5,366.5" fill="url(#xl)" stroke="#000" stroke-width="1.6" stroke-linejoin="round"/><path d="M201.5,373.0L205.9,365.8M201.5,373.0L197.1,365.8M211.5,366.5L205.9,365.8L197.1,365.8L191.5,366.5" stroke="#000" stroke-width="0.9" fill="none"/><polygon points="204.5,368.1 201.5,370.3 198.5,368.1" fill="#fff"/>
<path d="M138,362 L184,352 M139,367 L185,357" stroke="#000" stroke-width="1.3" fill="none"/>
<path d="M133,364.5 L150,362" stroke="#000" stroke-width="4"/>
<polygon points="153.1,363.1 161.9,354.5 162.9,364.9 158.4,374.2" fill="url(#xl)" stroke="#000" stroke-width="1.6" stroke-linejoin="round"/><path d="M153.1,363.1L160.2,368.9M153.1,363.1L161.7,360.2M158.4,374.2L160.2,368.9L161.7,360.2L161.9,354.5" stroke="#000" stroke-width="0.9" fill="none"/><polygon points="158.0,367.0 156.0,363.7 159.0,361.1" fill="#fff"/>
<ellipse cx="124.5" cy="369" rx="11.5" ry="8.5" fill="url(#dk)" stroke="#000" stroke-width="1.2"/>
<ellipse cx="111.5" cy="370.5" rx="5" ry="7.5" fill="#fff" stroke="#000" stroke-width="1.8"/>
<path d="M110.5,365.5 v9 l2,1 M113,367 v5" stroke="#000" stroke-width="1.2" fill="none"/>
<ellipse cx="198" cy="350.5" rx="12" ry="9" fill="url(#dk)" stroke="#000" stroke-width="1.2"/>
<ellipse cx="186.5" cy="350.5" rx="5" ry="7.5" fill="#fff" stroke="#000" stroke-width="1.8"/>
<path d="M185.5,345.5 v9 l2,1 M188,347 v5" stroke="#000" stroke-width="1.2" fill="none"/>
<path d="M210,346 L222,342.5 L222,348.5 Z" fill="#111"/>
<rect x="221.6" y="342.3" width="11.6" height="6.5" fill="#fff" stroke="#000" stroke-width="1"/>
<rect x="224.5" y="342.3" width="4" height="6.5" fill="#000"/></g></g>
<g transform="translate(530.2,-9.7)"><path d="M112,362 C95,356 75,350 55,344" stroke="#000" stroke-width="1.3" fill="none"/>
<path d="M114,366 C95,360 78,356 60,350" stroke="#000" stroke-width="1.3" fill="none"/>
<path d="M116,358 C98,352 80,346 62,340" stroke="#000" stroke-width="1.0" fill="none"/>
<path d="M58,316 C70,335 90,352 113,361" stroke="#000" stroke-width="2.6" fill="none"/>
<path d="M58,316 C70,335 90,352 113,361" stroke="#999" stroke-width="0.8" fill="none"/>
<path d="M71,316 C76,335 95,352 116,360" stroke="#000" stroke-width="1.4" fill="none"/>
<path d="M44,378.5 C65,366 85,362 110,363" stroke="#000" stroke-width="2.6" fill="none"/>
<path d="M44,378.5 C65,366 85,362 110,363" stroke="#999" stroke-width="0.8" fill="none"/>
<path d="M90,385 C100,387 108,380 113,374" stroke="#000" stroke-width="1.6" fill="none"/>
<path d="M97,407 C100,395 106,382 113,375" stroke="#000" stroke-width="2.6" fill="none"/>
<path d="M97,407 C100,395 106,382 113,375" stroke="#999" stroke-width="0.8" fill="none"/>
<path d="M95,336 C100,345 105,352 112,358" stroke="#000" stroke-width="1.2" fill="none"/>
<path d="M110,344 C112,350 113,355 115,360" stroke="#000" stroke-width="1.2" fill="none"/>
<path d="M158,331 C170,340 180,345 190,347" stroke="#000" stroke-width="2.6" fill="none"/>
<path d="M158,331 C170,340 180,345 190,347" stroke="#999" stroke-width="0.8" fill="none"/>
<path d="M186,326 C187,335 189,342 191,346" stroke="#000" stroke-width="1.6" fill="none"/>
<path d="M169,386 C172,372 178,362 186,356" stroke="#000" stroke-width="2.6" fill="none"/>
<path d="M169,386 C172,372 178,362 186,356" stroke="#999" stroke-width="0.8" fill="none"/>
<path d="M160,372 C168,372 176,365 182,358" stroke="#000" stroke-width="1.4" fill="none"/>
<path d="M39.3,318.2 C38.5,316.1 40.9,312.0 42.3,313.0 C41.5,311.0 44.3,307.5 45.7,308.6 C45.0,306.6 48.2,303.7 49.7,304.9 C49.0,303.0 52.6,300.6 54.1,301.8 C53.5,300.0 57.4,298.2 59.0,299.5 C58.5,297.8 62.8,296.5 64.4,297.9 C63.9,296.2 68.6,295.5 70.3,297.0 L57.7,315.0 Z" fill="#fff" stroke="#808080" stroke-width="1.0"/><path d="M39.3,318.2 Q49.3,317.8 57.7,315.0 L70.3,297.0" fill="none" stroke="#333" stroke-width="1.0"/><path d="M42.3,313.0L44.6,313.3M45.7,308.6L47.5,309.6M49.7,304.9L50.9,306.4M54.1,301.8L54.6,303.8M59.0,299.5L58.8,301.8M64.4,297.9L63.4,300.5" stroke="#808080" stroke-width="0.8"/>
<path d="M26.7,366.7 C25.1,368.3 25.5,373.0 27.2,372.6 C25.6,374.1 26.6,378.5 28.4,378.1 C26.9,379.6 28.4,383.7 30.3,383.2 C28.9,384.6 31.1,388.3 33.0,387.8 C31.7,389.2 34.4,392.6 36.4,392.1 C35.2,393.4 38.5,396.4 40.6,395.8 C39.4,397.1 43.4,399.8 45.5,399.2 L42.8,379.4 Z" fill="#fff" stroke="#808080" stroke-width="1.0"/><path d="M26.7,366.7 Q36.0,372.3 42.8,379.4 L45.5,399.2" fill="none" stroke="#333" stroke-width="1.0"/><path d="M27.2,372.6L29.5,373.6M28.4,378.1L30.5,378.3M30.3,383.2L32.2,382.6M33.0,387.8L34.5,386.6M36.4,392.1L37.4,390.2M40.6,395.8L40.9,393.4" stroke="#808080" stroke-width="0.8"/>
<path d="M83.9,341.5 C83.4,340.1 84.8,336.9 85.7,337.5 C85.3,336.2 87.2,333.8 88.1,334.4 C87.7,333.2 90.2,331.6 91.2,332.4 C90.9,331.3 93.9,330.4 94.9,331.3 C94.7,330.3 98.2,330.2 99.3,331.2 L94.6,347.3 Z" fill="#fff" stroke="#808080" stroke-width="1.0"/><path d="M83.9,341.5 Q89.7,345.0 94.6,347.3 L99.3,331.2" fill="none" stroke="#333" stroke-width="1.0"/><path d="M85.7,337.5L87.0,338.9M88.1,334.4L89.1,336.4M91.2,332.4L91.7,334.6M94.9,331.3L94.9,333.7" stroke="#808080" stroke-width="0.8"/>
<path d="M151.5,337.5 C150.3,335.7 151.6,331.2 153.2,331.9 C152.0,330.2 153.9,326.2 155.5,326.9 C154.4,325.2 156.7,321.7 158.4,322.5 C157.4,320.8 160.2,317.7 161.9,318.6 C161.0,317.0 164.3,314.4 166.1,315.3 C165.2,313.8 169.0,311.6 170.9,312.6 C170.0,311.1 174.3,309.4 176.2,310.4 L170.0,329.2 Z" fill="#fff" stroke="#808080" stroke-width="1.0"/><path d="M151.5,337.5 Q161.8,334.3 170.0,329.2 L176.2,310.4" fill="none" stroke="#333" stroke-width="1.0"/><path d="M153.2,331.9L155.7,331.5M155.5,326.9L157.7,327.3M158.4,322.5L160.1,323.5M161.9,318.6L163.1,320.2M166.1,315.3L166.7,317.4M170.9,312.6L170.7,315.1" stroke="#808080" stroke-width="0.8"/>
<path d="M144.8,364.8 C151.2,365.3 149.6,375.1 143.4,373.2 C148.0,377.8 140.7,384.2 137.1,378.7 C137.8,385.2 128.2,385.2 128.9,378.7 C125.3,384.2 118.0,377.8 122.6,373.2 C116.4,375.1 114.8,365.3 121.2,364.8 C115.3,362.2 120.1,353.6 125.3,357.5 C122.5,351.5 131.5,348.2 133.0,354.6 C134.5,348.2 143.5,351.5 140.7,357.5 C145.9,353.6 150.7,362.2 144.8,364.8Z" fill="#fff" stroke="#808080" stroke-width="1.1"/><path d="M136.0,366.5L144.8,364.8M135.6,368.6L143.4,373.2M134.0,369.9L137.1,378.7M132.0,369.9L128.9,378.7M130.4,368.6L122.6,373.2M130.0,366.5L121.2,364.8M131.1,364.6L125.3,357.5M133.0,363.9L133.0,354.6M134.9,364.6L140.7,357.5" stroke="#000" stroke-width="1.1" fill="none"/>
<path d="M220.7,344.7 C227.3,345.2 225.6,355.6 219.2,353.6 C224.0,358.5 216.4,365.3 212.7,359.4 C213.5,366.4 203.5,366.4 204.3,359.4 C200.6,365.3 193.0,358.5 197.8,353.6 C191.4,355.6 189.7,345.2 196.3,344.7 C190.2,341.9 195.2,332.7 200.5,336.9 C197.6,330.6 206.9,326.9 208.5,333.8 C210.1,326.9 219.4,330.6 216.5,336.9 C221.8,332.7 226.8,341.9 220.7,344.7Z" fill="#fff" stroke="#808080" stroke-width="1.1"/><path d="M211.6,346.4L220.7,344.7M211.2,348.6L219.2,353.6M209.6,350.1L212.7,359.4M207.4,350.1L204.3,359.4M205.8,348.6L197.8,353.6M205.4,346.4L196.3,344.7M206.5,344.5L200.5,336.9M208.5,343.7L208.5,333.8M210.5,344.5L216.5,336.9" stroke="#000" stroke-width="1.1" fill="none"/>
<path d="M51.6,345.1 C54.9,347.3 51.6,355.4 48.4,353.1 C50.0,357.5 43.7,361.5 42.1,357.1 C41.5,361.9 34.5,360.3 35.2,355.6 C32.6,358.9 27.7,352.3 30.3,349.0 C26.7,349.7 25.7,340.6 29.4,339.9 C26.1,337.7 29.4,329.6 32.6,331.9 C31.0,327.5 37.3,323.5 38.9,327.9 C39.5,323.1 46.5,324.7 45.8,329.4 C48.4,326.1 53.3,332.7 50.7,336.0 C54.3,335.3 55.3,344.4 51.6,345.1Z" fill="#fff" stroke="#000" stroke-width="1.1"/><path d="M47.5,344.1L51.4,345.0M45.5,349.2L48.2,352.9M41.5,351.8L42.0,356.8M37.1,350.8L35.3,355.3M34.1,346.6L30.6,348.8M33.5,340.9L29.6,340.0M35.5,335.8L32.8,332.1M39.5,333.2L39.0,328.2M43.9,334.2L45.7,329.7M46.9,338.4L50.4,336.2" stroke="#000" stroke-width="1.1" fill="none"/>
<path d="M110.5,410.0 C115.0,411.5 111.4,418.2 107.0,416.7 C109.5,420.0 101.6,423.7 99.1,420.4 C98.7,424.3 89.6,423.6 90.0,419.8 C86.9,422.7 79.9,417.9 83.1,415.0 C78.4,415.9 76.4,408.8 81.1,408.0 C76.6,406.5 80.2,399.8 84.6,401.3 C82.1,398.0 90.0,394.3 92.5,397.6 C92.9,393.7 102.0,394.4 101.6,398.2 C104.7,395.3 111.7,400.1 108.5,403.0 C113.2,402.1 115.2,409.2 110.5,410.0Z" fill="#fff" stroke="#000" stroke-width="1.1"/><path d="M105.1,409.6L110.2,410.0M102.9,413.9L106.7,416.5M97.9,416.2L99.1,420.2M92.1,415.8L90.2,419.6M87.8,412.8L83.4,414.9M86.5,408.4L81.4,408.0M88.7,404.1L84.9,401.5M93.7,401.8L92.5,397.8M99.5,402.2L101.4,398.4M103.8,405.2L108.2,403.1" stroke="#000" stroke-width="1.1" fill="none"/>
<path d="M182.3,389.4 C186.2,391.4 181.3,397.3 177.4,395.3 C179.1,398.7 170.8,401.2 169.2,397.8 C168.0,401.4 159.3,399.5 160.6,396.0 C157.0,398.3 151.4,392.9 155.0,390.6 C150.3,390.8 149.9,383.7 154.5,383.6 C150.6,381.6 155.5,375.7 159.4,377.7 C157.7,374.3 166.0,371.8 167.6,375.2 C168.8,371.6 177.5,373.5 176.2,377.0 C179.8,374.7 185.4,380.1 181.8,382.4 C186.5,382.2 186.9,389.3 182.3,389.4Z" fill="#fff" stroke="#000" stroke-width="1.1"/><path d="M177.2,388.4L181.9,389.4M174.1,392.1L177.2,395.1M168.9,393.6L169.1,397.5M163.5,392.5L160.8,395.8M159.9,389.1L155.3,390.5M159.6,384.6L154.9,383.6M162.7,380.9L159.6,377.9M167.9,379.4L167.7,375.5M173.3,380.5L176.0,377.2M176.9,383.9L181.5,382.5" stroke="#000" stroke-width="1.1" fill="none"/>
<path d="M94,405h4v4h-4z M166.5,383h4v4h-4z" fill="#000"/>
<g transform="rotate(18 62 347)"><rect x="46" y="342" width="34" height="10" rx="2" fill="url(#dk)" stroke="#000" stroke-width="1.2"/><rect x="80" y="343.5" width="12" height="7" fill="#fff" stroke="#000" stroke-width="1"/><rect x="40" y="344" width="6" height="6" fill="#000"/></g>
<polygon points="49.3,348.0 52.3,341.1 59.5,339.6 65.1,335.3 63.4,340.4 60.9,346.0 55.2,348.2" fill="url(#xh)" stroke="#000" stroke-width="1.5" stroke-linejoin="round"/><path d="M49.3,348.0L64.3,337.8" stroke="#000" stroke-width="1"/><circle cx="55.8" cy="343.2" r="1.8" fill="#000"/>
<polygon points="57.6,314.2 64.2,309.2 72.8,310.0 81.0,308.1 76.7,311.9 71.2,315.9 63.9,316.1" fill="url(#xh)" stroke="#000" stroke-width="1.5" stroke-linejoin="round"/><path d="M57.6,314.2L78.8,310.0" stroke="#000" stroke-width="1"/><circle cx="67.0" cy="312.0" r="1.8" fill="#000"/>
<polygon points="109.3,336.5 120.7,342.2 110.7,346.5 99.9,345.1" fill="url(#xl)" stroke="#000" stroke-width="1.6" stroke-linejoin="round"/><path d="M109.3,336.5L105.8,345.1M109.3,336.5L115.0,343.8M99.9,345.1L105.8,345.1L115.0,343.8L120.7,342.2" stroke="#000" stroke-width="0.9" fill="none"/><polygon points="107.0,342.4 109.7,339.5 113.2,341.6" fill="#fff"/>
<polygon points="78.7,384.6 88.8,377.5 89.3,387.4 83.9,395.8" fill="url(#xl)" stroke="#000" stroke-width="1.6" stroke-linejoin="round"/><path d="M78.7,384.6L86.1,390.9M78.7,384.6L88.3,382.8M83.9,395.8L86.1,390.9L88.3,382.8L88.8,377.5" stroke="#000" stroke-width="0.9" fill="none"/><polygon points="83.8,388.9 81.9,385.4 85.3,383.4" fill="#fff"/>
<polygon points="127.3,393.0 116.8,385.8 127.3,383.0 137.8,385.8" fill="url(#xl)" stroke="#000" stroke-width="1.6" stroke-linejoin="round"/><path d="M127.3,393.0L131.9,385.0M127.3,393.0L122.7,385.0M137.8,385.8L131.9,385.0L122.7,385.0L116.8,385.8" stroke="#000" stroke-width="0.9" fill="none"/><polygon points="130.4,387.5 127.3,390.0 124.1,387.5" fill="#fff"/>
<polygon points="44.5,372.3 47.1,358.8 53.5,356.7 54.9,363.3" fill="url(#xl)" stroke="#000" stroke-width="1.6" stroke-linejoin="round"/><path d="M44.5,372.3L53.4,360.8M44.5,372.3L50.0,358.8M54.9,363.3L53.4,360.8L50.0,358.8L47.1,358.8" stroke="#000" stroke-width="0.9" fill="none"/><polygon points="50.6,364.4 47.2,367.6 48.3,363.0" fill="#fff"/>
<polygon points="185.9,316.0 197.0,322.3 186.7,326.0 176.0,324.1" fill="url(#xl)" stroke="#000" stroke-width="1.6" stroke-linejoin="round"/><path d="M185.9,316.0L182.0,324.4M185.9,316.0L191.2,323.6M176.0,324.1L182.0,324.4L191.2,323.6L197.0,322.3" stroke="#000" stroke-width="0.9" fill="none"/><polygon points="183.2,321.8 186.1,319.0 189.5,321.2" fill="#fff"/>
<polygon points="201.5,373.0 191.5,366.5 201.5,364.0 211.5,366.5" fill="url(#xl)" stroke="#000" stroke-width="1.6" stroke-linejoin="round"/><path d="M201.5,373.0L205.9,365.8M201.5,373.0L197.1,365.8M211.5,366.5L205.9,365.8L197.1,365.8L191.5,366.5" stroke="#000" stroke-width="0.9" fill="none"/><polygon points="204.5,368.1 201.5,370.3 198.5,368.1" fill="#fff"/>
<path d="M138,362 L184,352 M139,367 L185,357" stroke="#000" stroke-width="1.3" fill="none"/>
<path d="M133,364.5 L150,362" stroke="#000" stroke-width="4"/>
<polygon points="153.1,363.1 161.9,354.5 162.9,364.9 158.4,374.2" fill="url(#xl)" stroke="#000" stroke-width="1.6" stroke-linejoin="round"/><path d="M153.1,363.1L160.2,368.9M153.1,363.1L161.7,360.2M158.4,374.2L160.2,368.9L161.7,360.2L161.9,354.5" stroke="#000" stroke-width="0.9" fill="none"/><polygon points="158.0,367.0 156.0,363.7 159.0,361.1" fill="#fff"/>
<ellipse cx="124.5" cy="369" rx="11.5" ry="8.5" fill="url(#dk)" stroke="#000" stroke-width="1.2"/>
<ellipse cx="111.5" cy="370.5" rx="5" ry="7.5" fill="#fff" stroke="#000" stroke-width="1.8"/>
<path d="M110.5,365.5 v9 l2,1 M113,367 v5" stroke="#000" stroke-width="1.2" fill="none"/>
<ellipse cx="198" cy="350.5" rx="12" ry="9" fill="url(#dk)" stroke="#000" stroke-width="1.2"/>
<ellipse cx="186.5" cy="350.5" rx="5" ry="7.5" fill="#fff" stroke="#000" stroke-width="1.8"/>
<path d="M185.5,345.5 v9 l2,1 M188,347 v5" stroke="#000" stroke-width="1.2" fill="none"/>
<path d="M210,346 L222,342.5 L222,348.5 Z" fill="#111"/>
<rect x="221.6" y="342.3" width="11.6" height="6.5" fill="#fff" stroke="#000" stroke-width="1"/>
<rect x="224.5" y="342.3" width="4" height="6.5" fill="#000"/><g transform="translate(463,0) scale(-1,1)"><path d="M112,362 C95,356 75,350 55,344" stroke="#000" stroke-width="1.3" fill="none"/>
<path d="M114,366 C95,360 78,356 60,350" stroke="#000" stroke-width="1.3" fill="none"/>
<path d="M116,358 C98,352 80,346 62,340" stroke="#000" stroke-width="1.0" fill="none"/>
<path d="M58,316 C70,335 90,352 113,361" stroke="#000" stroke-width="2.6" fill="none"/>
<path d="M58,316 C70,335 90,352 113,361" stroke="#999" stroke-width="0.8" fill="none"/>
<path d="M71,316 C76,335 95,352 116,360" stroke="#000" stroke-width="1.4" fill="none"/>
<path d="M44,378.5 C65,366 85,362 110,363" stroke="#000" stroke-width="2.6" fill="none"/>
<path d="M44,378.5 C65,366 85,362 110,363" stroke="#999" stroke-width="0.8" fill="none"/>
<path d="M90,385 C100,387 108,380 113,374" stroke="#000" stroke-width="1.6" fill="none"/>
<path d="M97,407 C100,395 106,382 113,375" stroke="#000" stroke-width="2.6" fill="none"/>
<path d="M97,407 C100,395 106,382 113,375" stroke="#999" stroke-width="0.8" fill="none"/>
<path d="M95,336 C100,345 105,352 112,358" stroke="#000" stroke-width="1.2" fill="none"/>
<path d="M110,344 C112,350 113,355 115,360" stroke="#000" stroke-width="1.2" fill="none"/>
<path d="M158,331 C170,340 180,345 190,347" stroke="#000" stroke-width="2.6" fill="none"/>
<path d="M158,331 C170,340 180,345 190,347" stroke="#999" stroke-width="0.8" fill="none"/>
<path d="M186,326 C187,335 189,342 191,346" stroke="#000" stroke-width="1.6" fill="none"/>
<path d="M169,386 C172,372 178,362 186,356" stroke="#000" stroke-width="2.6" fill="none"/>
<path d="M169,386 C172,372 178,362 186,356" stroke="#999" stroke-width="0.8" fill="none"/>
<path d="M160,372 C168,372 176,365 182,358" stroke="#000" stroke-width="1.4" fill="none"/>
<path d="M39.3,318.2 C38.5,316.1 40.9,312.0 42.3,313.0 C41.5,311.0 44.3,307.5 45.7,308.6 C45.0,306.6 48.2,303.7 49.7,304.9 C49.0,303.0 52.6,300.6 54.1,301.8 C53.5,300.0 57.4,298.2 59.0,299.5 C58.5,297.8 62.8,296.5 64.4,297.9 C63.9,296.2 68.6,295.5 70.3,297.0 L57.7,315.0 Z" fill="#fff" stroke="#808080" stroke-width="1.0"/><path d="M39.3,318.2 Q49.3,317.8 57.7,315.0 L70.3,297.0" fill="none" stroke="#333" stroke-width="1.0"/><path d="M42.3,313.0L44.6,313.3M45.7,308.6L47.5,309.6M49.7,304.9L50.9,306.4M54.1,301.8L54.6,303.8M59.0,299.5L58.8,301.8M64.4,297.9L63.4,300.5" stroke="#808080" stroke-width="0.8"/>
<path d="M26.7,366.7 C25.1,368.3 25.5,373.0 27.2,372.6 C25.6,374.1 26.6,378.5 28.4,378.1 C26.9,379.6 28.4,383.7 30.3,383.2 C28.9,384.6 31.1,388.3 33.0,387.8 C31.7,389.2 34.4,392.6 36.4,392.1 C35.2,393.4 38.5,396.4 40.6,395.8 C39.4,397.1 43.4,399.8 45.5,399.2 L42.8,379.4 Z" fill="#fff" stroke="#808080" stroke-width="1.0"/><path d="M26.7,366.7 Q36.0,372.3 42.8,379.4 L45.5,399.2" fill="none" stroke="#333" stroke-width="1.0"/><path d="M27.2,372.6L29.5,373.6M28.4,378.1L30.5,378.3M30.3,383.2L32.2,382.6M33.0,387.8L34.5,386.6M36.4,392.1L37.4,390.2M40.6,395.8L40.9,393.4" stroke="#808080" stroke-width="0.8"/>
<path d="M83.9,341.5 C83.4,340.1 84.8,336.9 85.7,337.5 C85.3,336.2 87.2,333.8 88.1,334.4 C87.7,333.2 90.2,331.6 91.2,332.4 C90.9,331.3 93.9,330.4 94.9,331.3 C94.7,330.3 98.2,330.2 99.3,331.2 L94.6,347.3 Z" fill="#fff" stroke="#808080" stroke-width="1.0"/><path d="M83.9,341.5 Q89.7,345.0 94.6,347.3 L99.3,331.2" fill="none" stroke="#333" stroke-width="1.0"/><path d="M85.7,337.5L87.0,338.9M88.1,334.4L89.1,336.4M91.2,332.4L91.7,334.6M94.9,331.3L94.9,333.7" stroke="#808080" stroke-width="0.8"/>
<path d="M151.5,337.5 C150.3,335.7 151.6,331.2 153.2,331.9 C152.0,330.2 153.9,326.2 155.5,326.9 C154.4,325.2 156.7,321.7 158.4,322.5 C157.4,320.8 160.2,317.7 161.9,318.6 C161.0,317.0 164.3,314.4 166.1,315.3 C165.2,313.8 169.0,311.6 170.9,312.6 C170.0,311.1 174.3,309.4 176.2,310.4 L170.0,329.2 Z" fill="#fff" stroke="#808080" stroke-width="1.0"/><path d="M151.5,337.5 Q161.8,334.3 170.0,329.2 L176.2,310.4" fill="none" stroke="#333" stroke-width="1.0"/><path d="M153.2,331.9L155.7,331.5M155.5,326.9L157.7,327.3M158.4,322.5L160.1,323.5M161.9,318.6L163.1,320.2M166.1,315.3L166.7,317.4M170.9,312.6L170.7,315.1" stroke="#808080" stroke-width="0.8"/>
<path d="M144.8,364.8 C151.2,365.3 149.6,375.1 143.4,373.2 C148.0,377.8 140.7,384.2 137.1,378.7 C137.8,385.2 128.2,385.2 128.9,378.7 C125.3,384.2 118.0,377.8 122.6,373.2 C116.4,375.1 114.8,365.3 121.2,364.8 C115.3,362.2 120.1,353.6 125.3,357.5 C122.5,351.5 131.5,348.2 133.0,354.6 C134.5,348.2 143.5,351.5 140.7,357.5 C145.9,353.6 150.7,362.2 144.8,364.8Z" fill="#fff" stroke="#808080" stroke-width="1.1"/><path d="M136.0,366.5L144.8,364.8M135.6,368.6L143.4,373.2M134.0,369.9L137.1,378.7M132.0,369.9L128.9,378.7M130.4,368.6L122.6,373.2M130.0,366.5L121.2,364.8M131.1,364.6L125.3,357.5M133.0,363.9L133.0,354.6M134.9,364.6L140.7,357.5" stroke="#000" stroke-width="1.1" fill="none"/>
<path d="M220.7,344.7 C227.3,345.2 225.6,355.6 219.2,353.6 C224.0,358.5 216.4,365.3 212.7,359.4 C213.5,366.4 203.5,366.4 204.3,359.4 C200.6,365.3 193.0,358.5 197.8,353.6 C191.4,355.6 189.7,345.2 196.3,344.7 C190.2,341.9 195.2,332.7 200.5,336.9 C197.6,330.6 206.9,326.9 208.5,333.8 C210.1,326.9 219.4,330.6 216.5,336.9 C221.8,332.7 226.8,341.9 220.7,344.7Z" fill="#fff" stroke="#808080" stroke-width="1.1"/><path d="M211.6,346.4L220.7,344.7M211.2,348.6L219.2,353.6M209.6,350.1L212.7,359.4M207.4,350.1L204.3,359.4M205.8,348.6L197.8,353.6M205.4,346.4L196.3,344.7M206.5,344.5L200.5,336.9M208.5,343.7L208.5,333.8M210.5,344.5L216.5,336.9" stroke="#000" stroke-width="1.1" fill="none"/>
<path d="M51.6,345.1 C54.9,347.3 51.6,355.4 48.4,353.1 C50.0,357.5 43.7,361.5 42.1,357.1 C41.5,361.9 34.5,360.3 35.2,355.6 C32.6,358.9 27.7,352.3 30.3,349.0 C26.7,349.7 25.7,340.6 29.4,339.9 C26.1,337.7 29.4,329.6 32.6,331.9 C31.0,327.5 37.3,323.5 38.9,327.9 C39.5,323.1 46.5,324.7 45.8,329.4 C48.4,326.1 53.3,332.7 50.7,336.0 C54.3,335.3 55.3,344.4 51.6,345.1Z" fill="#fff" stroke="#000" stroke-width="1.1"/><path d="M47.5,344.1L51.4,345.0M45.5,349.2L48.2,352.9M41.5,351.8L42.0,356.8M37.1,350.8L35.3,355.3M34.1,346.6L30.6,348.8M33.5,340.9L29.6,340.0M35.5,335.8L32.8,332.1M39.5,333.2L39.0,328.2M43.9,334.2L45.7,329.7M46.9,338.4L50.4,336.2" stroke="#000" stroke-width="1.1" fill="none"/>
<path d="M110.5,410.0 C115.0,411.5 111.4,418.2 107.0,416.7 C109.5,420.0 101.6,423.7 99.1,420.4 C98.7,424.3 89.6,423.6 90.0,419.8 C86.9,422.7 79.9,417.9 83.1,415.0 C78.4,415.9 76.4,408.8 81.1,408.0 C76.6,406.5 80.2,399.8 84.6,401.3 C82.1,398.0 90.0,394.3 92.5,397.6 C92.9,393.7 102.0,394.4 101.6,398.2 C104.7,395.3 111.7,400.1 108.5,403.0 C113.2,402.1 115.2,409.2 110.5,410.0Z" fill="#fff" stroke="#000" stroke-width="1.1"/><path d="M105.1,409.6L110.2,410.0M102.9,413.9L106.7,416.5M97.9,416.2L99.1,420.2M92.1,415.8L90.2,419.6M87.8,412.8L83.4,414.9M86.5,408.4L81.4,408.0M88.7,404.1L84.9,401.5M93.7,401.8L92.5,397.8M99.5,402.2L101.4,398.4M103.8,405.2L108.2,403.1" stroke="#000" stroke-width="1.1" fill="none"/>
<path d="M182.3,389.4 C186.2,391.4 181.3,397.3 177.4,395.3 C179.1,398.7 170.8,401.2 169.2,397.8 C168.0,401.4 159.3,399.5 160.6,396.0 C157.0,398.3 151.4,392.9 155.0,390.6 C150.3,390.8 149.9,383.7 154.5,383.6 C150.6,381.6 155.5,375.7 159.4,377.7 C157.7,374.3 166.0,371.8 167.6,375.2 C168.8,371.6 177.5,373.5 176.2,377.0 C179.8,374.7 185.4,380.1 181.8,382.4 C186.5,382.2 186.9,389.3 182.3,389.4Z" fill="#fff" stroke="#000" stroke-width="1.1"/><path d="M177.2,388.4L181.9,389.4M174.1,392.1L177.2,395.1M168.9,393.6L169.1,397.5M163.5,392.5L160.8,395.8M159.9,389.1L155.3,390.5M159.6,384.6L154.9,383.6M162.7,380.9L159.6,377.9M167.9,379.4L167.7,375.5M173.3,380.5L176.0,377.2M176.9,383.9L181.5,382.5" stroke="#000" stroke-width="1.1" fill="none"/>
<path d="M94,405h4v4h-4z M166.5,383h4v4h-4z" fill="#000"/>
<g transform="rotate(18 62 347)"><rect x="46" y="342" width="34" height="10" rx="2" fill="url(#dk)" stroke="#000" stroke-width="1.2"/><rect x="80" y="343.5" width="12" height="7" fill="#fff" stroke="#000" stroke-width="1"/><rect x="40" y="344" width="6" height="6" fill="#000"/></g>
<polygon points="49.3,348.0 52.3,341.1 59.5,339.6 65.1,335.3 63.4,340.4 60.9,346.0 55.2,348.2" fill="url(#xh)" stroke="#000" stroke-width="1.5" stroke-linejoin="round"/><path d="M49.3,348.0L64.3,337.8" stroke="#000" stroke-width="1"/><circle cx="55.8" cy="343.2" r="1.8" fill="#000"/>
<polygon points="57.6,314.2 64.2,309.2 72.8,310.0 81.0,308.1 76.7,311.9 71.2,315.9 63.9,316.1" fill="url(#xh)" stroke="#000" stroke-width="1.5" stroke-linejoin="round"/><path d="M57.6,314.2L78.8,310.0" stroke="#000" stroke-width="1"/><circle cx="67.0" cy="312.0" r="1.8" fill="#000"/>
<polygon points="109.3,336.5 120.7,342.2 110.7,346.5 99.9,345.1" fill="url(#xl)" stroke="#000" stroke-width="1.6" stroke-linejoin="round"/><path d="M109.3,336.5L105.8,345.1M109.3,336.5L115.0,343.8M99.9,345.1L105.8,345.1L115.0,343.8L120.7,342.2" stroke="#000" stroke-width="0.9" fill="none"/><polygon points="107.0,342.4 109.7,339.5 113.2,341.6" fill="#fff"/>
<polygon points="78.7,384.6 88.8,377.5 89.3,387.4 83.9,395.8" fill="url(#xl)" stroke="#000" stroke-width="1.6" stroke-linejoin="round"/><path d="M78.7,384.6L86.1,390.9M78.7,384.6L88.3,382.8M83.9,395.8L86.1,390.9L88.3,382.8L88.8,377.5" stroke="#000" stroke-width="0.9" fill="none"/><polygon points="83.8,388.9 81.9,385.4 85.3,383.4" fill="#fff"/>
<polygon points="127.3,393.0 116.8,385.8 127.3,383.0 137.8,385.8" fill="url(#xl)" stroke="#000" stroke-width="1.6" stroke-linejoin="round"/><path d="M127.3,393.0L131.9,385.0M127.3,393.0L122.7,385.0M137.8,385.8L131.9,385.0L122.7,385.0L116.8,385.8" stroke="#000" stroke-width="0.9" fill="none"/><polygon points="130.4,387.5 127.3,390.0 124.1,387.5" fill="#fff"/>
<polygon points="44.5,372.3 47.1,358.8 53.5,356.7 54.9,363.3" fill="url(#xl)" stroke="#000" stroke-width="1.6" stroke-linejoin="round"/><path d="M44.5,372.3L53.4,360.8M44.5,372.3L50.0,358.8M54.9,363.3L53.4,360.8L50.0,358.8L47.1,358.8" stroke="#000" stroke-width="0.9" fill="none"/><polygon points="50.6,364.4 47.2,367.6 48.3,363.0" fill="#fff"/>
<polygon points="185.9,316.0 197.0,322.3 186.7,326.0 176.0,324.1" fill="url(#xl)" stroke="#000" stroke-width="1.6" stroke-linejoin="round"/><path d="M185.9,316.0L182.0,324.4M185.9,316.0L191.2,323.6M176.0,324.1L182.0,324.4L191.2,323.6L197.0,322.3" stroke="#000" stroke-width="0.9" fill="none"/><polygon points="183.2,321.8 186.1,319.0 189.5,321.2" fill="#fff"/>
<polygon points="201.5,373.0 191.5,366.5 201.5,364.0 211.5,366.5" fill="url(#xl)" stroke="#000" stroke-width="1.6" stroke-linejoin="round"/><path d="M201.5,373.0L205.9,365.8M201.5,373.0L197.1,365.8M211.5,366.5L205.9,365.8L197.1,365.8L191.5,366.5" stroke="#000" stroke-width="0.9" fill="none"/><polygon points="204.5,368.1 201.5,370.3 198.5,368.1" fill="#fff"/>
<path d="M138,362 L184,352 M139,367 L185,357" stroke="#000" stroke-width="1.3" fill="none"/>
<path d="M133,364.5 L150,362" stroke="#000" stroke-width="4"/>
<polygon points="153.1,363.1 161.9,354.5 162.9,364.9 158.4,374.2" fill="url(#xl)" stroke="#000" stroke-width="1.6" stroke-linejoin="round"/><path d="M153.1,363.1L160.2,368.9M153.1,363.1L161.7,360.2M158.4,374.2L160.2,368.9L161.7,360.2L161.9,354.5" stroke="#000" stroke-width="0.9" fill="none"/><polygon points="158.0,367.0 156.0,363.7 159.0,361.1" fill="#fff"/>
<ellipse cx="124.5" cy="369" rx="11.5" ry="8.5" fill="url(#dk)" stroke="#000" stroke-width="1.2"/>
<ellipse cx="111.5" cy="370.5" rx="5" ry="7.5" fill="#fff" stroke="#000" stroke-width="1.8"/>
<path d="M110.5,365.5 v9 l2,1 M113,367 v5" stroke="#000" stroke-width="1.2" fill="none"/>
<ellipse cx="198" cy="350.5" rx="12" ry="9" fill="url(#dk)" stroke="#000" stroke-width="1.2"/>
<ellipse cx="186.5" cy="350.5" rx="5" ry="7.5" fill="#fff" stroke="#000" stroke-width="1.8"/>
<path d="M185.5,345.5 v9 l2,1 M188,347 v5" stroke="#000" stroke-width="1.2" fill="none"/>
<path d="M210,346 L222,342.5 L222,348.5 Z" fill="#111"/>
<rect x="221.6" y="342.3" width="11.6" height="6.5" fill="#fff" stroke="#000" stroke-width="1"/>
<rect x="224.5" y="342.3" width="4" height="6.5" fill="#000"/></g></g>
<path d="M858.7,330 V345 M665.7,330 V345 M327.9,340 V354" stroke="#333" stroke-width="1.1"/>
<path d="M134.6,326 L134.5,355 M134.6,326 L139,357" fill="none" stroke="#000" stroke-width="2.4"/>
<circle cx="858.7" cy="346.5" r="2.3" fill="#fff" stroke="#000" stroke-width="0.9"/>
<circle cx="665.7" cy="346.5" r="2.3" fill="#fff" stroke="#000" stroke-width="0.9"/>
<circle cx="328" cy="356" r="2.3" fill="#fff" stroke="#000" stroke-width="0.9"/>
<circle cx="134.8" cy="356.5" r="2.3" fill="#fff" stroke="#000" stroke-width="0.9"/>
</svg>
</body></html>
